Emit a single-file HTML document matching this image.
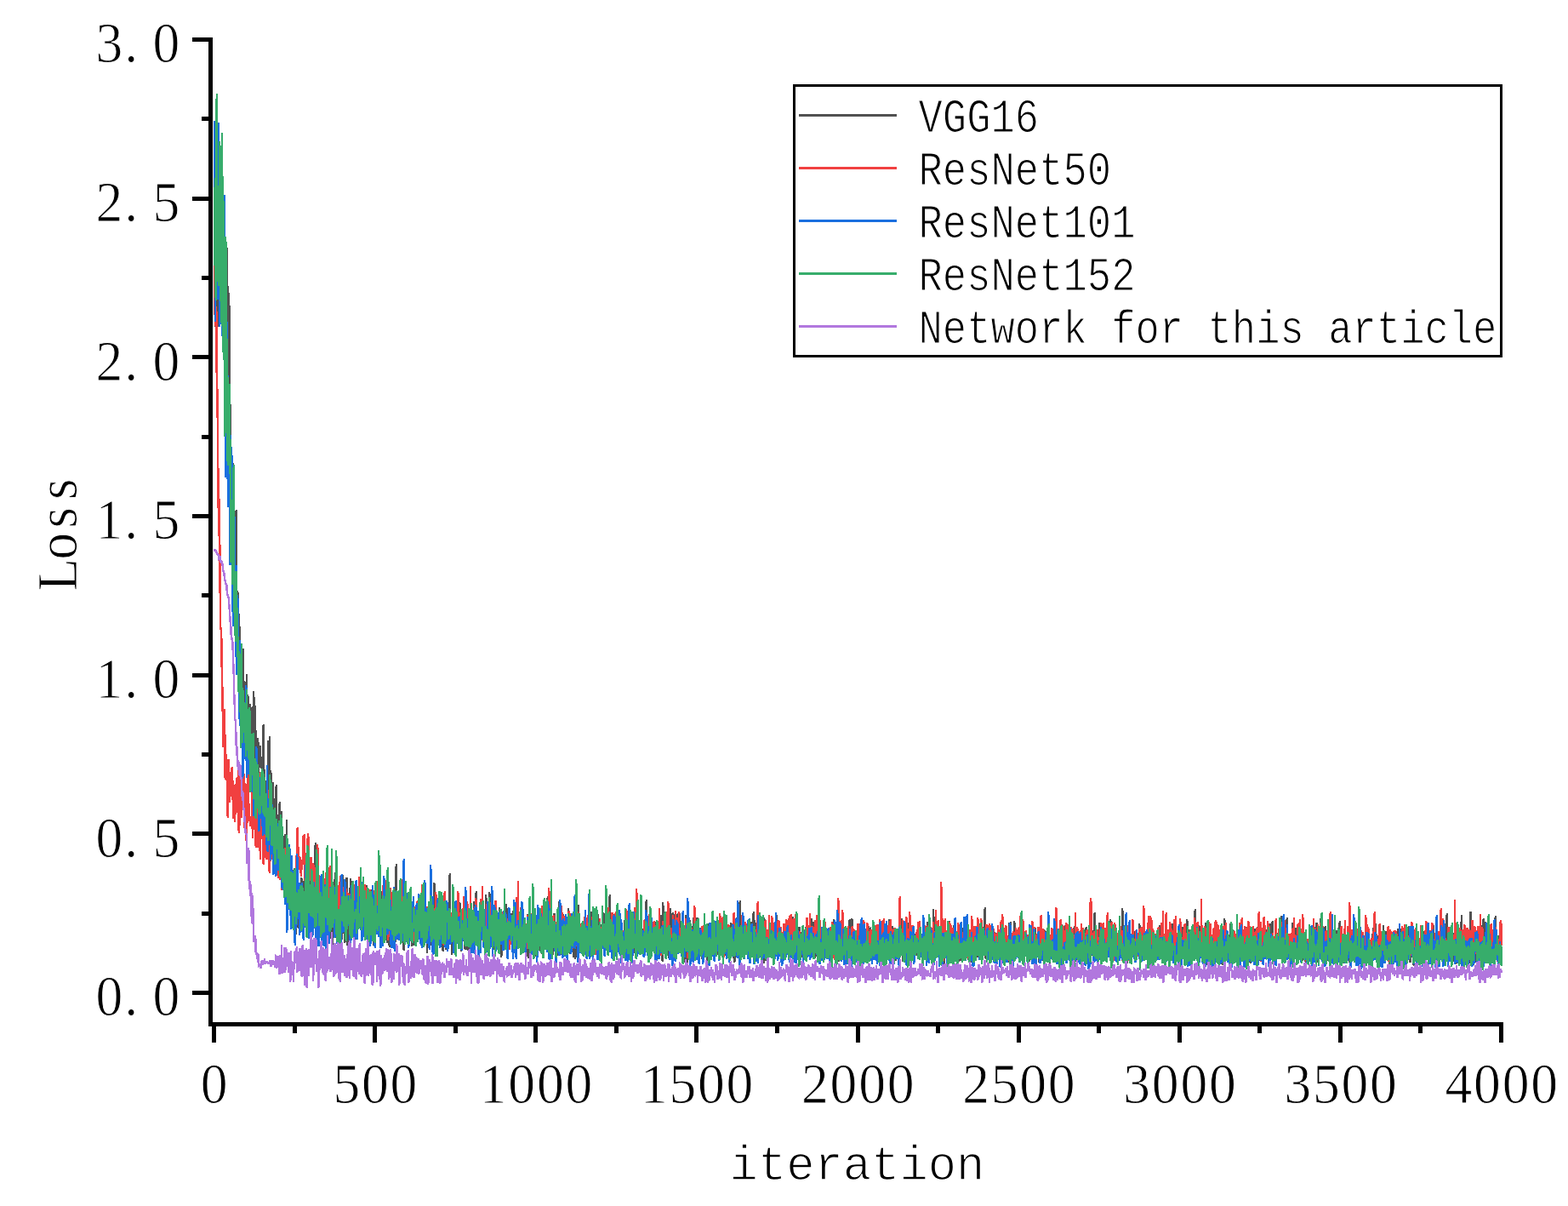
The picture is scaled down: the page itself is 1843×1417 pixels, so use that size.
<!DOCTYPE html>
<html lang="en">
<head>
<meta charset="utf-8">
<title>Loss vs iteration</title>
<style>
html,body{margin:0;padding:0;background:#fff;}
body{width:1843px;height:1417px;overflow:hidden;}
svg{display:block;}
text{fill:#000;}
.curve{fill:none;stroke-width:2.9;stroke-linejoin:miter;stroke-miterlimit:4;stroke-linecap:butt;}
</style>
</head>
<body>
<svg width="1843" height="1417" viewBox="0 0 1843 1417" role="img" aria-label="Loss versus iteration for five networks">
<rect x="0" y="0" width="1843" height="1417" fill="#fff"/>
<g class="curves" shape-rendering="crispEdges">
<path class="curve" stroke="#515151" d="M252 142v149l1 -4v34v-125l1 197v-259l1 170v-69v38l1 -118v229v-105l1 5v-104l1 150v-55v49l1 -55v-33v114l1 -146v22l1 32v-24v110l1 -32v55v-38l1 -49v83l1 -9v28v19l1 -1v-32v76l1 -72v-86l1 72v67v49h1v-138l1 115v49v-35l1 -106v131v-17l1 28v45l1 48v-28v3l1 -30v-3v5l1 43v-20l1 87v-83v46l1 46v-24v34l1 -43v-7l1 -21v156v8l1 -28v-19v-22l1 29v85l1 -51v-36v28l1 -13v39l1 3v-10v-3l1 11v6v29l1 -30v12l1 -31v1v37l1 20v11v-31l1 14v16l1 -10v23v-38l1 37v-50v28l1 -4v52l1 -34v-16v52l1 -18v-6v40l1 -45v-14l1 51v-32v47l1 -32v43l1 -74v23v15l1 22v-57v-21l1 109v-81l1 -11v41v42l1 -54v31v12l1 17v-45l1 -6v40v-29l1 44v-50v23l1 7v-1l1 -25v5v7l1 12v3v-14l1 12v-11l1 27v49v-82l1 -33v52l1 15v2v1l1 -2v28v-13l1 12v-29l1 15v-19v18l1 -28v21v-54l1 103v-25l1 -37v-46v77l1 -6v8v-39l1 42v-22l1 25v23v-34l1 -2v-18v36l1 13v-25l1 10v1v10l1 -27v21l1 -36v22v13l1 47v-42v5l1 -6v-4l1 33v-24v31l1 -55v74v9h1v-12l1 7v-67v55l1 21v-49v39l1 14v-43l1 8v25v-41l1 32v-34v30l1 -25v37l1 29v-88v78l1 -5v12v-9l1 -8v3l1 -9v-29v50l1 23v1l1 -9v20v-50l1 31v-2v-5l1 27v-8l1 -30v3v23l1 -50v67v-17l1 -2v36l1 -86v39v26l1 -68v37v4l1 20v-13l1 28v-43v24l1 -9v-24v21h1l1 19v-31v-17l1 19v-3l1 35v9l1 -52v33v-37l1 46v-6l1 -10v-18v19l1 -3v4v-3l1 23v-21l1 5v-2v-11l1 23v-11v4l1 -14v-8l1 34v-29v-38l1 75v-10v1l1 -11v-42l1 37v13v-25l1 23v-35l1 19v-25v43l1 -92v63v3l1 15v12l1 3v-13v12l1 -20v20v-27l1 -8v33l1 -38v30v-29l1 16v-15v41l1 -15v-34l1 44v20v-1l1 7v-5v-25l1 -35v36l1 -14v8v-2l1 3v1l1 -13v29v-41l1 3v22v-20l1 29v-3l1 -12v7v4l1 4v-2v-29l1 49v-36l1 11v-19v5l1 47v-49v6l1 6v8l1 -25v25v-49l1 30v-38v63l1 14v-41l1 -3v16v25l1 -16v-20l1 15v-1v1l1 13v-6v13l1 -61v47l1 -17v26v-33l1 44v-46v19l1 -49v69l1 -22v-6v-18l1 33v-9v33l1 -18v-22l1 -14v28v-51l1 8v39v33l1 -7v-14l1 -35v16v37l1 -27v-38v41l1 6v-58l1 44v10v-15l1 6v8l1 -32v2v6l1 19v-25v24l1 -10v-11l1 5v-23v30l1 34v-7v-46l1 33v-13l1 21v-33v26l1 -36v39v-31l1 9v25l1 -34v36v-1l1 -27v24l1 -4v10l1 -36v9v13h1v-10l1 -29v21v25l1 -23v17v1l1 -43v47l1 1v20v-7l1 -29v19v-20l1 27v-5l1 -25v-17v18l1 -12v-12v16l1 34v-13l1 -13v19v-15l1 31v-10v-23l1 41v-14l1 -17v25v-26l1 14v-8h1v-8v13l1 -11v11v-20l1 -24v31l1 1v20v-30l1 25v1v-23l1 7v-18l1 -7v37v-11l1 -34v18v5l1 -12v35l1 -21v-16v-5l1 45v-8v-11l1 11v2l1 -19v19v19l1 -31v13l1 4v12v-42l1 49v-6v-19l1 -28v-2l1 43v-15v19l1 -40v40v-19l1 -22v23l1 -32v42v-20l1 -9v18v-29l1 17v33l1 -92v57v10l1 22v-21v8l1 -18v5l1 -31v35v-7l1 3v9h1v-23v7l1 23v7v-15l1 -23v22l1 -35v47v-15l1 35v-23v-4l1 -14v-25l1 33v-27v16l1 -6v26v-34l1 42v-24l1 23v-7v13l1 -12v-14v7l1 18v-47l1 22v-13v5l1 24v16l1 -13v-36v38l1 -29v23v-16l1 32v-46l1 22v-17v13l1 -11v16v-15l1 34v-5l1 -28v13v3l1 -1v-11v18l1 -18v22l1 -7v-24v-1l1 35v-31v30l1 -28v38l1 -9v-8v-5l1 -29v10v-14l1 8v27h1v-24v19l1 3v16l1 -17v31v-25l1 7v-26v19l1 -2v-30l1 40v-20v30l1 -26v-6v-8l1 28v-18h1v5v-2l1 -5v1v21l1 2v-68l1 14v57v-27l1 -3v-2v10l1 16v-10l1 4v-9v6l1 -2v-20l1 -4v38v-9l1 5v-34v23l1 -27v33l1 -7v19v-42l1 29v14v-11l1 20v-28l1 -2v-3v-23l1 32v-18v9l1 8v23l1 -42v23v-7l1 17v-22v3l1 2v2l1 -20v2v4l1 -52v73l1 -3v8v-21l1 17v22v-15l1 -18v-16l1 38v-12v-6l1 8v-19v9l1 -5v15l1 -38v28v-23l1 29v-16v20l1 3v-3l1 -9v2v-30l1 43v-1v-46l1 21v34l1 -32v5v30l1 -21v-5l1 -12v-4v14l1 -16v20v10l1 1v-22l1 33v-35v26l1 -10v-13v-13l1 45v-13l1 -12v10v-23l1 40v-31v-1l1 6v-18l1 35v-35v28l1 -21v16v-18l1 1v32l1 -17v-1v2l1 7v-44l1 31v-25v36l1 6v-16v10l1 -54v42l1 -15v22v2l1 -4v-6v-9l1 16v8l1 5v-13v-11l1 2v8v8l1 -11v-6l1 9v-2v4l1 -17v21v-9l1 -3v-6l1 -14v15v1l1 29v-29v-33l1 54v3l1 -11v-20v9l1 15v-6l1 -18v7v-36l1 30v11v-4l1 14v8l1 -15v-5v25l1 -10v-2v-9l1 7v-10l1 5v-16v39l1 -50v5v23l1 -9v1l1 19v-12v-10l1 7v-12v16h1v12l1 -6v2v-36l1 26v16l1 -19v9v27l1 -37v27v-28l1 21v6l1 -26v26v-12l1 -9v-7v-2l1 12v11l1 -45v42v-40l1 38v-25v2l1 31v-19l1 -7v1v14l1 -7v10v9l1 -30v23l1 -31v14v21l1 -9v1l1 8v-19v14l1 -34v14v25l1 -11v3l1 16v-34h1v21v-23l1 20v-18l1 -16v29v20l1 -14v-14v-10l1 34v-11l1 -6v-3v-8l1 26v-6v-22l1 11v-1l1 -12v17v-6l1 12v12h1v-17v3l1 6v-13v16l1 -13v2l1 11v15v-50l1 19v33v-22l1 -12v9l1 -12v21v-14l1 3v2l1 -6v-11l1 21v-1v-8l1 4v-7v-5l1 -10v22l1 24v-25v-6l1 8l1 24v-34v12l1 14v-7l1 -20l1 -16v15v26l1 1v-35v-8l1 29v-11l1 26v4v-8l1 -9v2v-4l1 3v-16l1 -13v23v-35l1 43v-1v-12l1 10v-23l1 26v-29v19l1 -44v52l1 -3v-5v27l1 -33v1v6l1 20l1 -27v-10v-7l1 37v1v-9l1 19v-15l1 -20v-14v23l1 -23v21v3l1 5v-5l1 6v-1v6l1 -12v4v17l1 -14v8l1 12v-30v-18l1 -17v17v36l1 -29v1l1 39v-35v4l1 7v-2l1 3v-25v31l1 -2v-3v-4l1 24v-41l1 18v-5v6l1 5v2v-6l1 -1v-15l1 13v6v-35l1 49v-20l1 7v18l1 -16v5v-27l1 25v-23v9l1 9v-3l1 -5v30v-29l1 10v-34l1 37v-25v43l1 -38v8v7l1 -1v1l1 -9v8v18l1 -18v-40v37l1 -3v10l1 -8v6l1 -16v23v-9l1 -9v11l1 11v-23v20l1 -6v4v-8l1 4l1 -15v-19v33l1 -12v12l1 -6v-15v16l1 11v-1v-2l1 -7v-13l1 28v-3v-1l1 8v-39v20l1 -31v47l1 -36v28v-3l1 7v-1v4l1 -18v18l1 -12v-3v-9l1 8v-3v-3l1 7v-5l1 17v-2v-40l1 30v9l1 -30v23v6l1 9v-28v24l1 -6v-16l1 7v3v2l1 -20v-20v44l1 -14v-23l1 15v24v-3l1 2v3v-3l1 -11v11l1 -20v11v7l1 -18v8v1l1 -11v7l1 9v-15v10l1 -48v36l1 -1v-2v18l1 -19v20v10l1 -3v-14l1 24v-20v12l1 -19v19v-38l1 18v26l1 -42v30v6l1 3v-20v-14l1 29v5l1 1v-35v-3l1 30v-12v7l1 1v-14l1 7v2v8l1 -15v15v-4l1 -2v16l1 -10v-5l1 14v1l1 -38v8v4l1 -16v23v7l1 -8v27l1 -8v-23v10l1 15v-23v-5l1 5v9l1 10v-11v-5l1 10v-12v4h1v25l1 -36v-11v31l1 11v-25v15l1 5v-28l1 32v-25v24l1 -35v14l1 10v-5v-6l1 -3v4l1 13v-15l1 24v-29v2l1 -8v27v-9l1 -9v7l1 10v-9v3l1 -13v21v-12l1 1v-7l1 12v-3v3l1 -2v1v4l1 -52v58l1 3v-4v-1l1 -8v-21l1 -4v22v27l1 -29v19v-8l1 7v-19l1 13v-17v4l1 9v-4v-12l1 17v-17l1 13v-3v-8l1 -8v12v6l1 -9v27l1 -41v39v-27l1 19v-14v9l1 -6v13l1 13v-27v12l1 1v1l1 -39v37v-11l1 17v-35v29l1 18v-70l1 57v-30v8l1 2v11v-5l1 -15v21l1 -7v-9v11l1 6v-26v17l1 6v7l1 3v-24v-1l1 35v-14v-21l1 -25v5l1 21v-7v26l1 -17v24l1 -7v-11v-29l1 24v6v6l1 12v-22l1 12v-7v13l1 -12v18v-23l1 -12v6l1 -20v28v-2h1v17v-44l1 20v17l1 7v-18v-4l1 10v-1v5l1 -2v-19l1 -1v36v-18l1 15v1l1 -22v17v16l1 -34v-9v-13l1 35v-25l1 46v-14v-18l1 1v-13v6l1 14v-23l1 13v-16v34l1 -13v9v-16l1 14l1 11v-18v-11l1 1v39v-8l1 -47v32h1v-18v14l1 9v-4v-31l1 43v-33l1 22v-1v-31l1 35v-18l1 15v11v-13l1 -18v18v-9l1 5v2l1 5v-6v22l1 -16v14v-22l1 -1v13l1 -19v5v2l1 8v-11v-8l1 22v1l1 -25v39v2l1 -6v-21l1 -4v5l1 -21v6l1 29v-17l1 14v-4v6l1 -12v-7v6l1 14v3l1 -7v-19l1 14v-1v-1l1 -16v-9l1 18v8v-22l1 14v10v-18l1 11v18l1 -24v5v22l1 3v-23v-7l1 1v22l1 -10v-13v25l1 -17v-2l1 -10v36v-25l1 -28v37v-4l1 -16v21l1 -24v9v23l1 -17v16v-28l1 30v1l1 -6v-3v-27l1 18v-4v-11l1 23v-2l1 3v-19v-13l1 20v10v-1l1 6v-22l1 21v-8v9l1 7v5l1 -14v-13v7l1 -1v9v-2l1 2v-15l1 -27v32v12l1 -31v28v-18l1 12v-6l1 -48v57v-1l1 -12v5v5l1 3v-15l1 -7v25v1l1 -38v41v-24l1 4v17l1 -22v22l1 3v-26l1 16v-19v23l1 -17v-11v20l1 11v-8l1 -21v8v14l1 13v-27v-14h1v18l1 8v6v-2l1 10v-48v32l1 -37v37l1 16v-43v36l1 -5v-28v3l1 40v-20l1 12v-18v-20l1 32v-26v31l1 -43v42l1 -4v-9v18l1 -36v33l1 -19v21v-15l1 2v4v-11l1 18v-33l1 19v27v-54l1 24v-16v24l1 19v-17l1 9v-13v5l1 -8v20v-18l1 6v-13l1 25v-12v-29l1 36v-22v-8l1 18v-13l1 -1v-8v26l1 -3v-11l1 18v-9v9l1 14v-26v-20l1 28v-5l1 6v3v-10l1 -12v-19v22l1 21v5l1 -33v14v11l1 4v-2v-25l1 16v14l1 -25v7v7l1 -11v17v-21l1 27v-5l1 4v-9v3l1 -4v-4l1 -7v5v-1l1 -19v25v12l1 -27v-14l1 24v-9v18l1 -9v-6v4l1 10v-28l1 20v-10v7l1 -6v-1v15l1 -13v-21l1 3v19v-14l1 37v-34v19l1 19v-20l1 -10v20v-35l1 9v32l1 -27v12v7l1 -2v1v8l1 -8v-13l1 -11v26l1 -5v8v-23l1 30v-3l1 -7v-9v6l1 -4v-2l1 13v-7l1 -11v4v-11l1 23v-20v-8l1 21v-5l1 1v-4v2l1 -15v13l1 -4v7v15l1 -17v8v5l1 2v-8l1 5v-36v8l1 25v-12v-6l1 17v-28l1 14v13v16l1 -7v-14v9l1 -5v8l1 -11v8v10l1 -11v2v9l1 -34v20l1 3v-13v10l1 -11v25l1 -4v-18v-13l1 20v-3v12l1 -9v8l1 -6v-11v28l1 -22v12v-2l1 -22v12l1 -9v29v-12h1v1v-11l1 -6v23l1 -2v3v-28l1 21v-5v3l1 6v-14h1v-8v15h1v4v-27l1 7v14l1 -9v15v-36l1 36v-3h1v-27v22l1 -13v16v11l1 -22v16l1 7v-9v-12l1 -17v38v7l1 -32v8l1 9v-11v-4l1 -17v28v-18l1 21v1l1 -11v17v2l1 -26v31v-20l1 5v1l1 9v6v-12l1 4v-7l1 -5v8v4l1 -15v12v2l1 -7v-7l1 -26v8v34l1 1v-14v-6l1 8v-32l1 16v-7v26l1 5v2v-10l1 11v-6l1 -2v-16v17l1 9v-9v-7l1 -5v16l1 -17v-10v12l1 3v8l1 1v13v-27l1 12v-6v-4l1 14v-21l1 12v-19v18l1 -2v7v-23l1 39v-13l1 -3v12v-7l1 12v-22v16l1 -18v7l1 6v6v-8l1 -11v5v-9l1 16v-30l1 25v6v-26l1 -1v19l1 4v-16v20l1 -21v26v-13l1 -1v-16l1 33v-20v4l1 -1v9v4l1 -8v-2l1 -22v18v1l1 -8v24v-25l1 -2l1 15v8v-2l1 -13v-3v-10l1 -4v9l1 11v-3v6l1 -16v6l1 5v15v-26l1 28v-31v4l1 27v-14l1 11v-10v-9l1 9v12v-17h1v3l1 11v-7v-7l1 5v-32v27l1 5v-8l1 17v-16v-16l1 30v-12v-6l1 25v-38l1 33v-7v-8l1 7v-13v8l1 -5v6l1 -18v38v-23l1 7v7l1 -1v-3v-13l1 16v-7v-5l1 15v-26l1 -21v42v-18l1 15v-10v8l1 -33v35l1 -13v2v18l1 9v-27v-3l1 16v1l1 -19v2v-2l1 9v12v3l1 7v-18l1 -27v21v6l1 14v-8l1 -7v3v-14l1 13v-10v10h1v-18l1 24v-5v10l1 -14v-12v5h1v-5l1 6v-2v5l1 14v-16v-5l1 21v-12l1 -11v17v9l1 -13v-21v31l1 -8v6l1 -4v-6v-17l1 27l1 1v3v3l1 -6v-7v-2l1 -14v23h1v-1v-10l1 4v-11v18l1 -20l1 14v4v-9l1 11v-36v26l1 -8v22l1 4v-25v3l1 13v-1v1l1 -10v-9l1 26v-20v15l1 -4v-4l1 12v-56v8l1 26v1v18l1 -44v33l1 2v-17v13l1 11v-6v2l1 -5v-6h1v-10v17l1 -12v-11v35l1 -21v19l1 4v-35v7l1 8v11v-25l1 33v-14l1 -5v-11v31l1 8v-24l1 -2v2v11l1 -9v15v-20l1 -6v18l1 11v-17v1l1 -1v-18v15l1 -27v24l1 16v-25v15l1 4v-8v2l1 16v-6l1 -24v13v-6l1 -5v-11v31h1v2l1 -3v3v-9l1 1v-8l1 19v-5v-11l1 -4v29v-15l1 -3v16l1 -24v-10v33l1 -3v-27v-2l1 26v-2l1 -18v11v2l1 -26v18v20l1 -20v17l1 -23v-3v7l1 -6v-16v18l1 13v7l1 -14v13v4l1 -9v12v-4l1 -19v11l1 -2v-3v18l1 -20v2l1 1v-5v24l1 -46v29v11l1 -15v14l1 -14v-5v19l1 -23v9v-3l1 -1v-1l1 -8v4v4l1 14v-11v9l1 8v-13l1 8v-23v15l1 -1v-9v14l1 -2v-17l1 28v-5v-7l1 -11v6l1 15v-2v-32l1 19v10v-2l1 -50v28l1 33v-11v-13l1 11v-17v-9l1 23v-3l1 5v-12v-9l1 8v22v-20l1 15v-29l1 18v-8v14h1v-6v6l1 -21v32l1 -20v14v-16l1 27v-33l1 20v8v-20l1 10v-5v-12l1 26v-3l1 -9v-5v14h1v-17v-3l1 -5v21l1 19v-29v-3l1 23v-15v-2h1v8l1 -5v-7v24l1 -28v15v-13l1 17v8l1 -30v-7v39l1 -5v-14l1 12v-20v18l1 -3v-8v22l1 -16v-31l1 21v16v-22l1 -16v13v22h1v-3l1 7v-11v11l1 -2v-12v9l1 -3v-32l1 25v-10v10l1 -2v20v-8l1 -3v2l1 -2v-4v4l1 -10v10l1 -16v14v6l1 6v-5v-5l1 -17v27l1 -25v14v7l1 4v-19v24l1 -13l1 -3v-8v13l1 -8v14v-13l1 -6v10l1 -8v3v5l1 -3v2v16l1 -4v-19l1 23v-33v28l1 -14v-5v12l1 -21v28l1 -24v9v3l1 -14v6l1 18v-29v5l1 12v-1v-15l1 -5v15l1 18v-13v-8l1 18v3v-11l1 -2v-3l1 -11v35v-20l1 3v-2v-2l1 -11v6l1 7v-1l1 2v-18v34l1 -4v-34l1 14v-1v-7l1 33v-37l1 30v-2v-22l1 24v-17v-12l1 24l1 -14v-3v7l1 19v-36v13l1 28v-11l1 1v-2v-11l1 10v-22v1l1 13v11l1 -10v-5v-10l1 20v-6v11l1 -5v-20l1 -6v24l1 4v7l1 -18v-2v-1l1 6v-5v4l1 -14v11l1 -14v6v9l1 16v-18v2l1 -22v17l1 20v-3v-20l1 14v9v-17h1v7l1 -12v12v-26l1 36v-22v-1l1 -4v17l1 3v-27v16l1 13v-16l1 -11v13v15l1 -19v26v-23l1 -3v14l1 -5v1v7l1 3v-5v3l1 -26v33l1 -37v26v6l1 -3v5v8l1 -28v11l1 7v4v-6l1 6v-28v33l1 -8l1 -15v3v4l1 1v-7l1 13v-14v19l1 -19v11v-19l1 26v-7l1 3v-19v24l1 -24v6v-2l1 14v-13l1 -17v30v-10l1 6v8v-3l1 -14v6l1 21v-27v9l1 -14v17v-38l1 41v-18l1 19v-12v13l1 -27v16l1 -19v20v14l1 -7v-4v-22l1 -22v41l1 -5v-12v27l1 -8v-11v4l1 5v9l1 -11v-8v16l1 -8v-27v22l1 -1v17l1 -4v-3v5l1 4v3v-13l1 -12v3l1 -1v-3v20l1 -2v-5v7l1 -12v10l1 -21v23v-16l1 -15v34l1 -6v2v2l1 -13v-3v13l1 -2v-8l1 -1v15v-43l1 34v-3v7l1 -3v6l1 -30v38v-15l1 -10v23v-20l1 -12v14l1 3v3l1 -10v16v-13l1 8v2l1 5v-19v14l1 -19v13h1v11v-1l1 -16v7v-2l1 -7v2l1 10v-47v-2l1 40v19v-5l1 -16v13l1 -5v17v-23l1 -10v27v-8h1v17l1 -16v1v7l1 -4v-12v-1h1v10l1 2v-10v6l1 -17v-1l1 19v10v-17l1 9v-17v2l1 18v-23l1 -5v14v-3l1 12v4v-25l1 13v4h1v-10v11l1 3v-2v-1l1 3v-6l1 6v-32l1 27v-22v32l1 -19v9l1 -22v27v-28l1 29v-6l1 11v-11v2l1 9v6v-28l1 5v13l1 -6v6v-5l1 -5v-1v9l1 -3v-8l1 13v-1v-7l1 -5v10v-13l1 10v6l1 -8v15v3l1 -21v20v-8l1 -20v8l1 13v-9v14l1 -3v-9l1 -9v7v1l1 6v-8v-8l1 -4v9l1 3v-3v-2l1 11v-1v3l1 -1v-31l1 16v16v-7l1 -3v4v9l1 -28v30l1 -22v9v9l1 -6v15v-20l1 -5v14l1 -9v24v-15l1 7v-24v9l1 3v1l1 1v-12v19l1 -21v3l1 -4v16v-17l1 1v7v-9l1 19v-4l1 -18v-10v42l1 -26v23v-14l1 8v-8l1 5v-7v-3l1 11v-12v11l1 -11v-6l1 12v19l1 -9v-2v-4l1 11l1 -12v-3v-10l1 -6v12l1 10v-12v16l1 -10v-21v4l1 22v-15l1 16v2v9l1 -21v3v-9l1 3v12l1 -13v-15v-7l1 23v6v-1l1 3v7l1 -26v11v8l1 -18v9v22l1 -27v19l1 9v-16v6l1 5v-28l1 20v1v2l1 1v-6v6l1 -48v55l1 -12v6v2h1v-7v-11l1 -3v6l1 13v-30v2h1v28v-12l1 -1v1l1 1v9l1 -18v-2v10l1 7v-4l1 -11v17v-10l1 16v-12l1 16v-1v-39l1 27v-12v35l1 -19v-1l1 4v-7v10l1 -24v8v18l1 -16v2l1 -17v7v24l1 -3v-20v25l1 -20v14l1 -13v2l1 12v-8v-15l1 17v-7l1 -16v-4v5l1 19l1 3v4v-4l1 12v-20v9l1 -17v2l1 -5v25v-5l1 5v7v-8l1 1v-22l1 36v-28v9l1 2v-2v-8l1 6v-34l1 31v7v1l1 -3v-23v14l1 -11v29l1 -7v-5v2l1 -10v-4l1 16v18v-13l1 3v-18v-21l1 23v-20l1 20v-9v10l1 -6v18v-5l1 -23v8l1 24v-26v-2l1 18v-6v9l1 -9v2l1 5v-3v5l1 -14v15v-11l1 1v11l1 -4v-7v-14l1 24v-5l1 14v-14l1 -10v-1v14l1 -11v9l1 -7v-7v18l1 -12v20v-26l1 26v-14l1 1v-12v-13l1 25v-2v11l1 -17v-6l1 -2v24v-1l1 -19v-1v30l1 -10v11l1 -18v-3v-3l1 -1v-2v8l1 13v-16l1 -6v22v-4l1 -24v-7l1 26v8v-7l1 3v-4v-14l1 27v1l1 -44v33v-22l1 31v-27v24l1 -4v4l1 -20v17v-1l1 -17v-13v16l1 1v-6l1 -12v24v7l1 -34v7v29l1 -21v5l1 5v11v2l1 -8v-5l1 -22v35v-26l1 10v-7v-18l1 32v-6l1 17v-9v-26l1 -8v26v2l1 -6v2l1 -27v40v6l1 -8v5v-14l1 1v14l1 -13v3v-6l1 9v-2v-2l1 -19v27l1 -5v-6v1l1 -15v18l1 -7v3v9l1 -5v-3v7l1 -44v34l1 -10v-9v-5l1 43v-10v7l1 -9v-1l1 10v-27v-2l1 23v-15v-3l1 3v20l1 -47v6v33h1v8v-20l1 7v-5l1 10v8v-3l1 -3v-8l1 4v-12v2l1 -4v8v-21l1 -4v34l1 5v-19v2l1 -3v15v4l1 -8v-24l1 25v-11v14l1 3v-1v12l1 -13v-17l1 10v9v-8l1 -3v-7v17l1 -7v-4l1 -9v24v-8l1 13v-8v-12l1 -18v24l1 2v5v3l1 -4v-16l1 26v-16v4l1 4v-13v10l1 3v-5l1 9v1v-8l1 4v-22v11l1 11v-10l1 -10v2v-16l1 31v-24v19l1 -4v9l1 2v-34v-1l1 21v-6v7l1 -18v37l1 -37v36v-36l1 -8v41l1 -5v-7v-10l1 29v-18v-9l1 -2v2l1 12v1l1 -41v46v-13l1 6v-2l1 -5v9v-6l1 5v-13v13l1 -5v1l1 -25v36l1 -3v5v-9l1 -3v6l1 -11v9v-4l1 16v-24l1 16v-4v-12l1 20v-25v9h1v16h1v-14v4l1 3v-5v8l1 -7v-8l1 15v-1v-7l1 4v-4v-2l1 17v-36l1 22v-3v12l1 -8v7l1 -7v11l1 -45v29v-3l1 2v11l1 -9v22v-11l1 -16v9v16l1 -5v-24l1 26v-17v17l1 -26v4v-5l1 15v-8l1 2v14v-13l1 8v5v-1l1 -25v4l1 14v14v-25l1 -7v7v9l1 11v-12l1 8v-1v-7l1 5v-7l1 -10v25v-17l1 -2v8v15l1 -10v-39l1 22v20v-7h1v-5v-3l1 -5v7l1 10v-19v19l1 -14v-18v22l1 17v-22l1 2v15v-17l1 6v11v-12l1 4v14l1 -19v17v-19l1 18v-18l1 4v15v-19l1 -8v27v-5l1 2v-7l1 -21v18v-17l1 19v-17v21l1 -2v11l1 -24v11v3l1 5v-17v3l1 13v-26l1 17v2v-26l1 25v2l1 -33l1 17v14v4l1 -11v4v15l1 -28v19l1 -13v9l1 11v-4l1 -2v-6v-4l1 7v4v-20l1 13v-6l1 2v12v-2l1 -16v-16v20l1 13v-22l1 30v-7v-24l1 20v-23v34l1 -9v-10l1 2v-1v3l1 6v-18v18l1 6v-11l1 20v-31v4l1 7v6l1 9v-1v-23l1 7v-3v5l1 -5v18l1 -22v4v-7l1 10v11v-16l1 17v-23l1 8v10v-10l1 -16v29v-31l1 21v-12l1 10v-3v-17l1 21v3v-3l1 -11v15l1 7v-7v-9l1 7v-5l1 12v-24v13l1 -1v4v-6l1 8l1 -10v12v-3l1 13v-11v10l1 -3v-2l1 -32v11v10h1v-11v33l1 -6v-12l1 8v4v-8l1 -11v-4v12l1 -4v-4l1 29v-29v25l1 -22v-2l1 -1v13v-13h1v-5v26l1 -6v-12l1 6v-10v3l1 3v-3v3l1 10v-14l1 12v-26v7l1 20v-9v15l1 -14v-19l1 18v-9v-4l1 13v-12v16l1 -5v17l1 -7v-3v-10l1 17v-13l1 17v-11v3l1 -27v28v-6l1 -13v18l1 -12v6v8l1 -1v-17v15l1 -15v9l1 8v-7v-29l1 27v9v-12l1 8v9l1 -17v14v-25l1 2v5v8l1 8v-11l1 10v-20v26l1 -31v19v6l1 4v-18l1 2v-4v10l1 5v-7l1 13v-10v6l1 -24v11v9l1 1v-18l1 19v-5v-7l1 14v-23v12l1 -17v20l1 -40v35v3l1 14v-15v16l1 -10l1 -14v14l1 5v-4v2l1 -29v31l1 3v-5v-19l1 30v-34l1 26v1v2l1 -17v12v-9l1 2v20l1 -19v-5v16l1 1v-12v-21l1 2v-4l1 31v-15v11l1 -13v9v16l1 -23v24l1 -50v-6v45l1 -6v-2v-3l1 -3v22l1 -5v-20v5l1 12v5l1 -16v8v-16l1 -1v5v4l1 1v-7l1 17v8v-22l1 4v4l1 18v-61l1 3v44v-15l1 9v-2v-1l1 -9v20l1 -15v29l1 -39v11v13l1 -6v-6l1 9v-9v24l1 -20v-11l1 4v7v10l1 -9v12v-12l1 3v-8l1 -11v7v18l1 1l1 1v-36l1 10v22v-6l1 -34v50v-20l1 -22v24l1 8v-21v-15l1 32v-16v23l1 -12v-4l1 12v-12l1 -3v20l1 -4v-11v19l1 -4v-14v-5l1 6v4l1 -22v19v7l1 13v-24v11l1 -1v-3l1 8v-14v7l1 -39v44v-10l1 9v-14l1 17v-10l1 -4v22v-23l1 5v-13l1 22v-7v8l1 -1v-15l1 1"/>
<path class="curve" stroke="#F14040" d="M252 309v-1l1 65v-96v106l1 -17v-6l1 81v25v25l1 -12v-22v89l1 53v-17l1 50v9v-5l1 63v4v35l1 1v8l1 38v2v18l1 32v33v8l1 -14v7l1 -38v81v-35l1 -1v-15v21l1 33v-9l1 -5v24v-15l1 49v-69l1 5v37v-19l1 12v16v-17l1 -19v28h1v-6v-10l1 -18v39v-23l1 6v39l1 -26v-5v-2l1 -7v44v-38l1 15v14l1 -38v-4v28l1 -30v25v-8l1 22v-55l1 82v-45v-16l1 52v-33l1 -2v-19v-9l1 35v19v-56l1 3v36l1 -16v-2l1 8v-25v64l1 -53v15l1 13v-27v67l1 -65v17v29l1 -29v15l1 -62v18v31l1 23v-2v-4l1 5v7l1 -5v-5v5l1 4v4l1 -71v82v-8l1 -26v15v-14l1 -7v-8l1 11v33v-39l1 54v-28v8l1 10v-29l1 15v-22v46l1 -41v8v7l1 27v-18l1 22v9v-103l1 52v-16v43l1 -20v1l1 3v11v5l1 30v-43l1 4v-12v25l1 -36v40v14l1 -36v25l1 13v-21v-11l1 10v-4v-56l1 52v-13l1 59v-36v-6l1 19v9v-20l1 13v5l1 -29v-2v18l1 13v-15v-4l1 4v32l1 -15v-11v-3l1 -14v13l1 30v-6v8l1 -48v29v-6l1 -7v22l1 13v-10v-3l1 -26v11v30l1 -25v-1l1 27v-13v24l1 -29v10v14l1 -7v-13l1 12v-11v-3l1 19v-6v-36l1 31v14l1 -11v18v-32l1 11v-9v3l1 8v-8l1 9v14v5l1 -6v23l1 -53v46v-18l1 14v7v-23l1 2v-2l1 -10v14v-13l1 -3v11v-2l1 -11v2l1 -5v29v-37l1 -9v3v-8l1 -28v33l1 -10v24l1 -6v9v-16l1 14v-11l1 18v3v-14l1 6v-6l1 -6v2v-24l1 -6v12v18l1 -32v49l1 6v-33v4l1 2v-3v25l1 -6v-39l1 6v30v-42l1 50v-5v-11l1 22v-9l1 -4v4v-19l1 6v24v-5l1 -11v2l1 13v-17v-5l1 22v-20l1 34v1v-27l1 19v4v-8l1 6v-12l1 24v-12v-53l1 49v25v-29l1 2v-11l1 19v11v-26l1 10v30v-30l1 12v-17l1 20v-15v8l1 -5v8v5l1 -6v-7l1 3v-16v16l1 -2v-21l1 29v-6v14l1 -7v-23v19l1 -15v32l1 4v-20v20l1 -55v23v32l1 -13v5l1 -12v6v-13l1 -7v23v11l1 -21v10l1 -18v18v-13l1 7v7v3l1 -14v-29l1 27v13v-11l1 9v16l1 -19v-17v26l1 9v-19v-20l1 14v-1l1 -21v12v13l1 13v-4v3l1 -13v23l1 -33v20v7l1 -16v35v-13l1 -2v-20l1 18v-27v27l1 -13v16v-26l1 20v-10l1 14v7v-11l1 -18v28v6l1 -14v-15l1 24v-6v-9l1 7v-9l1 -13v17v1l1 -12v12v12l1 1v1l1 -44v31v-9l1 -2v22v-21l1 17v18l1 -22v11v-10l1 -9v-33v45l1 -5v-7l1 3v4v13l1 -2v-10v13l1 -6v7l1 -34v37v-51l1 40v6l1 2v-28v-18l1 42v-16v7l1 1v-6l1 -9v36v4l1 -31v4v-11l1 32v-8l1 -39v43v-23l1 17v-5v12l1 -38v45l1 -9v-3v-32l1 15v-7v12l1 -4v-4l1 -19v23v24l1 -39v17l1 17v-12v11l1 -51v42v21l1 -30v16l1 -33v20v25l1 -16v8v-4l1 -2v17l1 -29v15v1l1 -25v-21v42l1 -40v58l1 -35v17v-7l1 13v-6v-3h1v-11l1 -36v51v-6l1 20v8l1 -53v40v-7l1 -10v-15v10l1 -27v35l1 21v-26v1l1 13v-7v4l1 -38v38l1 10v-22v27l1 -29v18l1 -4v1l1 -36v21v23h1v-15v-6l1 15v-14l1 7v-20v10l1 9v-4l1 14v-25v8l1 11v-7v9l1 -52v51l1 -14v3v16l1 -11v5v-8h1v-8l1 -1v18v2l1 1v3v11l1 -31v10l1 -6v26v-2l1 11v-28v-12l1 1v10l1 13v-14l1 -10v-1l1 15v-3v-11l1 4v9v24l1 -17v-22l1 11v-13v20l1 -6v-11v2l1 4v-11l1 -4v-1v43l1 -14v-2l1 16v-41l1 34v-15v30l1 -22v-3v9l1 -23v-31l1 53v-40l1 20v13v12l1 -27v8l1 -22v37v-9l1 1v-1l1 -19v3v22l1 -7v2v-17l1 16v12l1 -10v-4v-14l1 -6v-1v15l1 13v-16l1 12v5v-12l1 -2v-7v25l1 9v-28l1 20v-28v30l1 -7v14v-56l1 41v-6l1 7v-4v-16l1 11v2l1 -19v36v-34l1 -9v43v-21l1 20v9l1 -14v-18v-4l1 16v7v-6l1 4v-1l1 19v-24v-2l1 -38v27v12l1 -3v-4l1 14v15v-14l1 -7v-5v12l1 2v-8l1 -4v-8v12l1 -10v19l1 -25v13v16l1 -13v-5v15l1 -24v15l1 -11v19v-17l1 -6v17v-3l1 4v-12l1 5v-7v8l1 15v-10l1 -12v-32l1 25v21v16l1 -31v7v16l1 -29v13l1 6v17v-37l1 14v4l1 9v-7v-24l1 11v-25v17l1 11v-8l1 11v20v-10l1 -13v17v-5l1 9v-43l1 44v-4v-1l1 -26v-3v25l1 -16v20l1 -11v-46v32l1 14v16v-12l1 12v9l1 -34v6l1 -12v35l1 -42v36v-19l1 -1v-10v-16l1 27v10l1 9v-17v14l1 6v-14v-12l1 14v9l1 -15v17v3l1 -41v19v-28l1 49v-33l1 18v-49v50l1 3v-12v3l1 9v-19l1 3v-3v8l1 14v-17l1 20v-38l1 26v10v-25l1 16v-19l1 16v-25v33l1 9v4v1l1 -28v-20l1 31v14v-26l1 4v11v-11l1 6v14l1 -24v17v5l1 -9v-27v-7l1 10v28l1 6v-17v7l1 -4v15v-2l1 2v-24l1 -5v24v-16l1 -1v18l1 -9v-19v31l1 -31v22v-4l1 4v15l1 -22v4v6l1 -3v-8v7l1 5v-8l1 -9v10v10l1 -21v15v-12l1 11v9l1 4v-4v-8l1 22v-30v-11l1 19v10l1 6v-22v-3l1 5v-9l1 19v-5v-7l1 6v-9v-1l1 11v8l1 -2v-26v31l1 -15v13v-50l1 46v-17l1 21v-69v73l1 -21v20v-27l1 27v-9l1 12v-13v-5l1 -27v52v-32l1 7v8l1 -5v-8v6h1v9l1 -4v-12v18l1 -5v-7v-4l1 -1v8l1 20v-33v-4l1 -3v13v-7l1 16v9l1 -11v1v-17l1 3v18v-1l1 -5v-2l1 -20v28v-25l1 35v-8v-34l1 20v4l1 -6v11v-4l1 -2l1 -2v12v-12l1 14v-17v10l1 -5v-1l1 13v-2v-8l1 -5v-7v14l1 8v-12l1 4v-11v-7l1 -13v49v-13l1 -5v-11l1 1v9v-10l1 17v-2v-8l1 16v-36l1 33v4v-18l1 25v-15l1 -3v-21v-33l1 49v17v-18l1 -5v20l1 -16v-19v17l1 16v-2v11l1 -13v2l1 -27v37v1l1 -21v-5v15l1 -9v-7l1 -1v5v-2l1 24v-28v9l1 12v-5l1 -1v3v-5l1 3v12v-50l1 28v-29l1 38v-27v25l1 -25v11l1 2v13v-5l1 -17v41v-13l1 6v-4l1 -19v-3v14l1 -18v24v-1l1 -9v-4l1 7v11v-20l1 -18v30v-5l1 13v-12l1 10v-13v-20l1 16v15v-19l1 30v-36l1 13v14v-6l1 7v-42l1 23v20v-4l1 -10v9v-10l1 -2v21l1 -24v-17v21l1 -4v14l1 -10v15l1 7v-29v19l1 -10v1v-4l1 -3v1l1 11v-15v16l1 -9v12v-8l1 10v-29l1 15v13v11l1 -11v-27l1 26v-21v16l1 2v8v-16l1 -19v12l1 4v19v-13l1 14v-3v-15l1 17v-18l1 10v-24v22l1 -8v-7v6l1 -1v27l1 -30v29v-9l1 16v-20v4l1 -5v8l1 -9v7v-6l1 -14v33l1 -21v1v15l1 -11v-25v15l1 11v-16l1 5v19v-10l1 -4v-1v-4l1 4l1 7v-2v2l1 -13v8v5l1 -16v-32l1 43v-19v24l1 -9v-10v-3l1 -17v38l1 -7v-18v1l1 28v-10l1 -14v-3v28l1 -16v28v-37l1 -12v38l1 -9v12v-10l1 -12v-1v3l1 20v-5l1 -37v24v8l1 -8v10v-9l1 11v-1l1 9v-42v16l1 -13v11v13l1 10v-18l1 -3v2v12l1 12v-27v5l1 6v2l1 -1v5v9l1 -14v4l1 -9v7v-7l1 17v-19v-25l1 32v-9l1 -4v7v2l1 19v-7v-31l1 19l1 -26v47v-32l1 5v29v-13l1 -12v13l1 1v-17v10l1 -4v4v-4l1 -2v-29l1 28v13v-13l1 2v-52l1 70v-24v6l1 -18v33v2l1 -18v-7l1 6v-3v9l1 -14v12v7l1 -26v30l1 7v-12v-3l1 -1v3v-8l1 9v5l1 -29v22v-17l1 13v-4v-16l1 41v-34l1 14v-11v17l1 -5v2l1 10v-11v-27l1 9v-2v22l1 -1v3l1 16v-18v5l1 -19v-1v7l1 15v-3l1 -25v14v-9l1 18v-18v17l1 2v-9l1 11v5v-31l1 9v15v-5l1 -16v21l1 18v-57v49l1 -10v16h1v-26v18l1 -22v10l1 -9v-1l1 -10v33v-6l1 -17v-1v16l1 7v-13l1 24v-7v-32l1 28v-43v28l1 -1v-39l1 30v16v2l1 1v13v-25l1 5v8l1 -19v18v11l1 -6v-11l1 -5v-22v31l1 -11v-7v6l1 4v16l1 -8v-36v30l1 2v12v-15l1 -21v30l1 4v-9v4l1 2v-38v21l1 25v-14l1 -13v16v-14l1 22v-18v7l1 -8v8l1 7v-12v-1l1 -3v23l1 -9v-3v1l1 1v-5v-17l1 -6v9l1 8v30v-16l1 -14v16v-24l1 22v-9l1 7v-8v17l1 -11v6v2l1 5v-29l1 25v-21v11l1 -7v5v1l1 12v-52l1 26v1v33l1 -13v-10l1 10v-15l1 6v-8v-5l1 23v-2l1 3v-19v11l1 3v9v-17l1 4v-2l1 6v10v-30l1 16v-3v11l1 -25v25l1 -3v4v2l1 -21v15v5l1 -8v1l1 -4v7v-9l1 19v-7v-18l1 -1v27l1 -22v5v-15l1 26v-16l1 -6v25v-7l1 -19v14v-13l1 9v16l1 -15v-4v11l1 -19v26v-13l1 3v5l1 6v5v-7l1 -10v4v-5l1 1v3l1 -9v-7v26l1 -18v19v-47l1 40v-5l1 -15v6v-7l1 -7v22l1 -30v34v-4l1 -14v32v-15l1 -4v-13l1 18v-18v21l1 -24v4v15l1 -2v-1l1 2v2v-24l1 12v21l1 -15v-14l1 12v7v-4l1 -11v11v19l1 -12v-10l1 17v-16v-5l1 -26v12l1 15v22v-21l1 18v-4v-25l1 23v-22l1 11v-9v14l1 -1v-22v12l1 4v4l1 -7v8v-8l1 8v16l1 -10v-35l1 10v22v5l1 -3v-3v-19l1 22v9l1 -9v7v-33l1 22v-3l1 2v18v-22l1 -3v11v-9l1 8v-3l1 -11v15v-11l1 5v1v6l1 2v-8l1 -15v10v-11l1 16v16v-31l1 16v-15l1 5v-2v5l1 30v-34v7l1 -6v-2l1 7v-4v23l1 -59v35v1l1 17v9l1 -11v-8v-2l1 -19v6l1 24v-16v13l1 -15v17v-24l1 23v-2l1 6v-20v9l1 -4v-4v18l1 -31v13l1 6v3v3l1 3v-17v9l1 2v6l1 -8v-26v23l1 24v3v-31l1 23v-17l1 -4v-1v-19l1 32v-8l1 10v6v-5l1 -27v28l1 -19v12l1 -13v21v-14l1 2v11v-3h1v-6l1 -22v1v-1l1 15v-5v22l1 -11v-13l1 10v11v-13l1 3v1v8l1 -14v10l1 6v-8v-7l1 -11v3l1 32v-31v7l1 1v-13v-4l1 15v9l1 5v-9v-2l1 12v-31v3l1 9v-15l1 15v15v-15l1 -17v31v11l1 -26v30l1 -7v-15v9l1 -28v23v-7l1 -7v14l1 -6v25v-47l1 28v4l1 4v-10v9l1 -9v10v8l1 -7v1l1 -13v-5v15l1 -9v10v-6l1 3v-8l1 14v-8v-1l1 11v-12v1l1 -12v23l1 3v2v-19l1 8v5v-13l1 -8v-15l1 10v23v-26l1 27v-13l1 -5v24v-16h1v-29v37l1 -16v12l1 -3v10v-22l1 -3v32l1 2v-17l1 -16v5v13l1 4v-30v4l1 27v-8l1 1v-30v20l1 -6v24v-13l1 -5v7l1 -3v6v10l1 -34v33l1 -2v10v-22l1 2v9v2l1 -11v5l1 8v-17v-6l1 7v-6v8l1 -18v9l1 15v-17v9l1 10v2v-4l1 16v-11l1 -3v10v-6l1 1v5v-14l1 -4v-1l1 -11v17v3l1 -5v-16v-5l1 27v-11l1 7v-9v29l1 -17v13l1 6v-29v15l1 -27v7v-6l1 6v15l1 -10v20v-64l1 43v-18v21l1 15v-11l1 -8v-6v11l1 -21v9v9l1 9v-39l1 40v-2v7l1 -13v20v-24l1 23v-24l1 23v-2v-5l1 -10v5l1 8v-8v-9l1 24v-34v17l1 23v-25l1 4v2v-1l1 1v-14v7l1 -9v14l1 -19v18v-9l1 9v-13l1 1v9h1v5v-12l1 4v-7v9l1 2v-11l1 13v-11v-4l1 -6v17l1 -1v-9v10l1 -5v5v2l1 7v-9l1 -6v4v6l1 -6v-17v20l1 7v-29l1 27v-25v13l1 21v-12h1l1 -11v4v-14l1 21v-2v-9l1 9v4l1 -9v15v1l1 -7v-12l1 -3v21v-5l1 -10v1v12l1 -20v15l1 -2v5v-21l1 1v16v-18l1 3v4l1 9v-11v18l1 -2v-2v-10l1 -10v35l1 -17v7v-14l1 20v-37v29l1 -24v31l1 -19v-15v5l1 28l1 4v-21v21l1 -40v15v-9l1 24v-3l1 -3v15l1 -16v6v-3l1 11v-19l1 -10v13v9l1 -15v7l1 13v9l1 -43v19v9l1 4v14v-35l1 14v-4l1 5v-1v-7l1 20v-6v-14l1 -8v10l1 -1v15v-3l1 -10v2l1 4v-2v15h1v-23v7l1 9v-12l1 -48v58v-11l1 5v6v2l1 -22v19l1 12v-41v31l1 -17v6v7l1 -26v32l1 -13v-2v20l1 -6v-18v-18l1 20v29l1 -35v30v-7l1 -9v-2l1 4v1v-37l1 48v-17v-10l1 4v25l1 -34v1v26l1 -2v-25v16l1 12v-16l1 15v2v9l1 -24v13v1l1 -5v-15l1 11v-12v12l1 -15v-8v22l1 1v15l1 -10v-29v14l1 25v-5l1 -14v3v-1l1 2v-6v5l1 7v-10l1 26v-13v-8l1 -9v-9l1 1v13h1v-4v12l1 -1v-7v13l1 -15v1l1 -16v32v-6l1 -22v22v-10l1 11v-24l1 30v-8v3l1 -24v14l1 18v-39v37l1 -17v-9v17l1 2v6l1 2v-52v23l1 -2v32v-10l1 7v-23l1 -15v31v2l1 -26v29v-19l1 13v-15l1 15v10v-85l1 84v-20v-21l1 10v29l1 3v8v-13l1 4v-4l1 -37v22v3l1 9v-9v-5l1 5v-9l1 -2v19v4l1 -28v31v-18l1 1v-19l1 30v7v-35l1 29v13v-8l1 -13v-16l1 9v7v8l1 -9v-7v16l1 -11v-21l1 25v1l1 -5v9l1 -18v6v-3l1 13v-15v-11l1 24v1l1 -3v6v-3l1 -18v11v7l1 1v5l1 -20v19v-9h1v17v-14l1 -7v25l1 -7v-13v3l1 -7v-10v14l1 -4v1l1 23v-15v-3l1 -13v16v-11l1 -1v20l1 4v-31v22l1 -21v12l1 -7v26v-48l1 53v-10v-17l1 -10v6l1 -3v22v-16l1 -13v33v-4l1 -14v-15l1 9v19v-4l1 -2v11v-43l1 33v1l1 10v-19v3l1 -16v5v12l1 -8v-20l1 34v-3v-13l1 15v-12l1 17v-21v1l1 15v6v-16l1 1v16l1 -26v20v-27l1 3v14v-6l1 23v-15l1 -6v19v2l1 -35v16v-14l1 6v36l1 -12v-10v-2l1 -1v9v-6l1 9v-27l1 27v-4v-17l1 17v-8l1 11v-9v-5l1 20v1v-4l1 -22v3l1 -3v-9v23l1 3v-6v-4l1 -11v12l1 -5v13v9l1 -40v23v6l1 -6v-30l1 37v2l1 -3v14v-34l1 16v9l1 -23v18v-23l1 21v-2l1 -4v-3v13l1 -5v-4v21l1 5v-22l1 -3v-13v16l1 -15v-4v17l1 7v4l1 -8v12v-17l1 -7v16v-18l1 21v-10l1 -2v21v-15l1 -14v-4v-1l1 23v-9l1 17v-24v9l1 -11v24l1 -30v16v14l1 -22v-21v27h1v19l1 -14v-14v9l1 5v5v-33l1 32v10l1 -19v6v1l1 4v1v3l1 -25v23l1 -1v-11v-6l1 4v7v4l1 -8v6l1 -2v-14v12l1 -11v16v-2l1 -4v-4l1 16v-2v-34l1 21v9l1 10v-10v-18l1 -5v29v-12l1 -8l1 6v2v-5l1 11v-10v-5l1 13v-21l1 5v18v-1l1 -7v-2v-1l1 3v4l1 -33v5v20h1v-2v-6l1 9v-10l1 32v-10l1 8v-12l1 3v4v1l1 -17v15v-15l1 15v-10l1 15v3v-22l1 6v-32v24l1 2v2l1 8v-13v12l1 -11v13v-22l1 15v3l1 -8v11v12l1 -15v-13v19l1 -19v1l1 1v26v-57l1 21v17l1 10v3v4l1 -11v-18v27l1 -11v-11l1 -3v9v9l1 -32v19l1 -5v19l1 4v-30l1 14v18v-1l1 -12v13l1 -11v-5l1 -10v-9v21l1 -2v-18l1 17v1v-8l1 9v3l1 -15v19v-3l1 -6v-8v27l1 -32v6l1 22v-22v17l1 -21v15v-5l1 18v-12l1 3v-12v14l1 -12v-28v35l1 -15v19l1 -15v22v-29l1 22v3l1 -2v-13l1 4v-9v5l1 13v-3l1 -17v-7v6l1 3v21v10l1 -35v17l1 9v-9v-10l1 11v7v-6l1 -13l1 31v-30v9l1 -14v34v-18l1 4v-3l1 8v-6v6l1 -17v-40v45l1 6v-56l1 51v3v-15l1 22v-8l1 12v-21v15h1v-1v-19l1 17v-3l1 -9v-11v40l1 -33v-2v-1l1 7v16l1 -14v3v-1l1 6v18l1 -25v-7l1 -4v-7v5l1 20v-12v13l1 -21v20l1 -25v34v-17l1 1v10h1v-22l1 20v6l1 -21v16l1 -38v-1v27l1 9v-20v23l1 -22v8l1 6v9v-12l1 5v-3v5l1 -24v38l1 -2v-21v6l1 16v-21v7l1 23v-45l1 26v2v1l1 9v-7v-20l1 19v-9l1 20v-22v7l1 -4v3h1v1v-18l1 -1v16v-6l1 14v1l1 -5v-18v36l1 -13v-14v-1l1 6v10l1 -15v-6v-3l1 9v8v-9l1 -7v13l1 -1v14v-30l1 16v20v-25l1 -15v43l1 -44v22v-9l1 20v-16l1 6v-6v18l1 -3v5v-42l1 18v12l1 -3v10v-5l1 -9v21v1l1 -4v-4l1 -25v15v3l1 -14v4v3l1 1v-1l1 22v-34v6l1 -5v1v10l1 -6v17l1 -25v3v12l1 7v-8l1 21v-13v-47l1 44v5v-7l1 9v6l1 -21v23v-19l1 5v-5l1 6v-26l1 22v-30v33l1 -1v3v13h1v-48l1 26v8v-30l1 12v-4v20l1 1v-18l1 27v7v-25l1 4v3l1 6v-16v23l1 -5v-10v9l1 -7v14l1 -5v-18v15l1 -24v1v27l1 -1v-13l1 2v-1v-5l1 19v-34v26l1 6l1 -30v-16v27l1 2v8v11l1 -10v18l1 -16v-34v40l1 -44v39v9l1 -20v4l1 -12v8v23l1 -13v-9l1 10v-26v-2l1 30v-6v7l1 -23l1 34v-7v-23l1 27v-19v-2l1 12v-33l1 13v17v-15l1 16v-35v19l1 12v17l1 2v-25v2l1 -3v9v16l1 -3v-14l1 -20v26v-35l1 51v-5l1 -9v-15v19h1v4v-16l1 -7v-9l1 28v-11v9l1 -33v32v-21l1 7v24l1 -25v-6v25l1 -23v13v-16l1 5v16l1 -13v5v-4l1 12v-24v14l1 -3v18l1 -17v5v12l1 -18v2l1 -10v4v-12l1 27v-36v4l1 12v5l1 17v-10v17l1 -12v-5v-7l1 -16v44l1 -1v-12v-3l1 10v-14l1 -10v16l1 -8v-49v54l1 -23v10v29l1 -10v4l1 -24v15l1 -2v-21l1 22v4v-15l1 13v-6v-8h1v3l1 20v7v-21l1 -24v27v-2l1 -9v9l1 -23v7v34l1 -22v-3v8l1 -11v17l1 -10v6l1 -21v10v1l1 -4v-14l1 29v-21v-10l1 23v-5l1 -13v22v-10l1 15v-26v4l1 21v2l1 -9v7v6l1 -3v-11v9l1 7l1 -29v22v-8l1 6v-5v4l1 -23v43l1 -38v24v-17l1 7v-22v18l1 4v4l1 5v2v-6l1 8v-5l1 2v1v-2l1 -6v6v-12h1v19l1 -13v8l1 -12v6l1 -7v-7l1 -3v23v-14l1 16v11v-5l1 -15v-13l1 4v-2l1 29v-14v3l1 -9v-14l1 -2v-8v24l1 6v-14v5l1 -20v31l1 -38v8v8l1 22v-3l1 9v-30v5l1 18v-27v12l1 4v2l1 -13v18v1l1 -23v34v-11l1 -6v-24l1 15v18v-29l1 32v-10v11l1 -22v8l1 17v-7v-6l1 -18v-1v16l1 -18v28h1v-5v4l1 -3v-1l1 -17v23v-11l1 -6v-10v4l1 4v1l1 8v2v1l1 -39v48v-15l1 6v-6l1 -21v33v14l1 -8v-16v11l1 -7v7l1 -28v32v-11l1 -33v28v8l1 -26v33l1 -23v18v-8l1 -3v11l1 5v-7v-31l1 38v-17v3l1 -18v28l1 -2v2v13l1 -10v-18v2l1 6v13l1 -19v-7v16l1 -12v11v-7l1 9v5l1 -3v-14v14l1 -36v29v8l1 -3v-2l1 10v-14v2l1 7v-25l1 20v-4v6l1 -14v21v-7l1 -16v4l1 -18v27v-3h1v2l1 7v-22l1 18v-31v21l1 15v-7v-3l1 2v8l1 -28v19v-2l1 11v-4v-14l1 -2v10l1 -9v3v24l1 -17v7l1 -19v2v25l1 -26v13v-9l1 -10v-1l1 8v-20v24l1 2v22v-3l1 -8v-14l1 1v12v-2l1 -8v2v-18l1 -1v21l1 -6v-7v16l1 -27v-4v23l1 11v-20l1 17v-7l1 -13v16v-33l1 48v-1l1 -3v-6v-14l1 17v-13l1 13v15v-24l1 7v-4v-4l1 -2v10l1 2v-1v-1l1 -10v8v2l1 13v-3l1 -25v16v-8l1 -8v26v-15l1 19v-20l1 -8v-21v31l1 9v-16v4l1 -17v18l1 -7v27v-18l1 -17v9l1 1v4v-21l1 23v-11v16l1 -22v9l1 8v-25v11l1 9v-5v7l1 8v-9l1 -17v28v-5l1 -12v20v-6l1 -4v-13l1 18v4v-7l1 -18v22v3l1 -13v3l1 -9v8v-3l1 -10v24l1 -25v24v-10l1 -36v23v21l1 -7v3l1 -12v-8v15l1 24v-26v-6l1 15v-12l1 14v-15v30l1 -6v-5v-8l1 -3v-4l1 -2v19v1l1 -13v2v-5l1 17v-7l1 4v-21v8l1 -3v-2l1 -14v33v2l1 -17v2v3l1 15v-10l1 -19v21v-27l1 14v-24v30l1 -11v12l1 13v-25v10l1 5v-11v-16l1 20v-3l1 -1v4v-48l1 58v-38v27l1 1v13l1 -13v-16v7l1 5v7l1 1v-6v-3l1 -1v-7v22h1v-15l1 11v-13v11l1 3v-18v21l1 -26v35l1 -20v-10v14l1 -21v15v7l1 1v-16l1 -3v28v-10l1 11v-13v2l1 -16v5l1 21v-4v-1h1v6l1 -6v-9v-32l1 38v-12v-18l1 37v-4l1 2v-14v-15l1 28v-15v4l1 5v7l1 -14v8v4l1 2v-7v-1l1 -8v11l1 -11v15v-21l1 -2v5v27l1 -55v49l1 -3v-12v15l1 -15v-8v14l1 12v-7l1 -13v16v-10l1 14v-10l1 -28v31v-8l1 8v1v-23l1 19v-12l1 18v-1v-11h1v-7v3l1 18v-20l1 1v4v4l1 -6v-2v7l1 -3v5l1 -4v6v-8l1 -17v27v15l1 -8v-29l1 24v-25v2l1 6v20h1v-1v-3l1 -7v-13v4l1 -5v26l1 -28v14v3l1 5v-22l1 13v-2l1 14v-21v10l1 21v-17l1 3l1 1v-7v14l1 -12v-6v-8l1 19v-3l1 -11v-13v14l1 -12v31l1 -2v-26v32l1 -23v-16v23l1 1v-7l1 7v7v-4l1 -13v-1v4l1 17v-19l1 1v11v-4l1 9v-24v6l1 14v-6l1 15v-10v-30l1 20v-9v7l1 17v-27l1 13v-10v-2l1 19v17l1 -32v-6v3l1 4v21v5l1 -17v-5l1 9v-5v-4l1 17v-11v9l1 -5v3l1 1v-28v39l1 -10v-4v17l1 -19v-1l1 3v-4v15l1 -13v20v-21l1 9v-8l1 -18v22v-32l1 11v26l1 -33v24v7l1 -14v-1v14l1 -15v13l1 -15v-6v7l1 6v8v-7l1 11v-34l1 15v-9v26l1 -12v13v-6l1 -2v7l1 8v-28v6l1 5v-9v5l1 10v-13l1 -6v11l1 -9v17v-19l1 20v-12l1 12v7v-11l1 -43v38l1 4v-1v-13l1 19v-10v-25l1 41v-13l1 -12v-1v20l1 -12v15v-4l1 5v5l1 -15v-2v21l1 -24v18v-32l1 3v8l1 6v15v-14l1 6v13v-34l1 7v14l1 -12v18v-9l1 -1v4l1 -14v4v6l1 -11v-41v24l1 35v-5l1 -13v1v14l1 -21v19v6l1 -11v2l1 -6v-8v17l1 4v-25v5l1 22v-14l1 7v-9v16l1 -25v17v8l1 -5v-18l1 18v14v-40l1 19v7l1 6v-6l1 9v-20v-11l1 5v29l1 -12v14v-6l1 -4v6v-30l1 21v-5l1 7v-19v15l1 -13v2v-7l1 -12v36l1 -15v-4v5l1 13v-12v-16l1 16v-12l1 20v-1v-6l1 17v-26l1 13v-16v3l1 -8v15v-2l1 18v-4l1 -16v-25v47l1 -22v30v-28l1 2v-14l1 31v-14v7l1 17v-21v6l1 -5v-3l1 7v-2v-13l1 14v-20v14l1 -10v6l1 -8v13v10l1 -12v-4l1 9v-1v-10l1 -7v18v7l1 -33v11l1 12v1v-14l1 -1v8v5l1 11v-29l1 -2v42v-40l1 8v17v7l1 -17v6l1 12v8v-20l1 -5v7l1 -9v22l1 -7v-21v19l1 -35v2l1 28"/>
<path class="curve" stroke="#1A6FDF" d="M252 142v94l1 22v120v-95l1 6v-17l1 35v-37v29l1 53v-145l1 -63v123l1 31v16v70l1 -165v150v12l1 -58v-116l1 98v90v-14l1 -85v61v46l1 -30v-62l1 -82v236v-28l1 22v102v-75l1 16v-130l1 94v97v-127l1 73v87l1 -53v10v25l1 -40v126v-90l1 -63v20l1 -5v10v-11l1 145v-89v138l1 -48v65l1 -126v-3v84l1 -84v124v-26l1 10v57l1 -51v-57v129l1 -69v48v-73l1 60v-2l1 7v21v60l1 -93v101l1 -48v-9v52l1 -27v-32v45l1 31v50l1 -40v-8l1 16v-37v32l1 -11v-21l1 48v-13v-76l1 46v63v-31l1 -17v-19l1 35v21v7l1 -37v12v25l1 -7v7l1 -30v41v-30l1 -9v13l1 36v-58v57l1 -27v32v24l1 -45l1 11v-8v25l1 3v-12v-56l1 33v35l1 -25v27l1 -32v36v26l1 -15v-22h1v-27v49l1 -33v9v15l1 -23v10l1 32v-45v55l1 -27v2l1 -8v27v-14l1 3v-26v42l1 -18v9l1 22v-95v72l1 30v-63v57l1 -30v-10l1 34v-3v3l1 -8v30v-6l1 -20v-26l1 11v-25v27l1 27v-7v36l1 -16v2l1 -23v-7v26l1 2v18l1 -24v-6v-2l1 24v-55v20l1 27v9l1 -2v-7v5l1 -7v-4v-11l1 6v27l1 -8v16v5l1 -50v52v-51l1 52v-10l1 -16v24v-6l1 14v5v-4l1 10v-47l1 41v-41v80l1 -39v-10v18l1 -28v12l1 20v-13v-64l1 69l1 15v-10v26l1 -19v-68v42l1 11v-11l1 -20v34v-38l1 28v21v-37l1 76v-26l1 -15v21v-13l1 9v-84l1 59v14l1 -31v35v-24l1 12v-31v62l1 -40v14l1 22v-44v40l1 -54v27l1 -4v13v-18l1 50v-31v13l1 -18v7l1 -14v28v-60l1 -15v64v-4l1 -6v-23l1 -18v68v-9l1 7v1v8l1 -36v29l1 -57v16v39h1v-7v-45l1 49v10l1 -25v-8v20l1 -52v34l1 -4v25v-15l1 3v33v-42l1 35v-29l1 25v-76v44l1 -12v-2v44l1 13v-30l1 -26v18v-15l1 -4v47v-32l1 -43v60l1 22v-28v4l1 -17v25v-18l1 37v-54l1 -19v8v56l1 -33v46l1 -45v7v17l1 -25v4v-18l1 19v-3l1 37v-11v-12l1 -15v6v-35l1 51v-11l1 -10v10v-15l1 21v-44v40l1 -32v26l1 -36v60v-35l1 19v-13v-22l1 47v3l1 -5v-23v36l1 -33v25l1 -3v-13v-15l1 20v-2v-9l1 5v34l1 -31v-10v-23l1 -27v37v13l1 19v-19l1 -15v-12v45l1 -21v-13v-28l1 41v15l1 3v-6v5l1 -30v-6v9l1 -12v36l1 -16v15v-8l1 -27v28v30l1 -25v8l1 12v-11v-35l1 -20v50l1 -31v-5v47l1 -19v-4l1 30v-20l1 -30v-5v-17l1 52v-53v32l1 38v-40l1 24v-18v13l1 -30v23v10l1 -26v16l1 13v-37v37l1 4v-2v15l1 -14v-56l1 62v-17v20l1 -8v-47l1 16v31v-11l1 15v-1v2h1v-23l1 -6v3v13l1 20v-21v15l1 -36v8l1 -5v23v23l1 -51v-6v52l1 -27v-24l1 45v-61v49l1 13v-51v26l1 18v-31l1 50v-75v59l1 -21v14l1 -17v-10v34l1 -31v22v7l1 -8v13l1 -3v-35v24l1 -29v17v27l1 12v-18l1 -17v5v15l1 -37v50v-7l1 -23v-53l1 47v26v-30l1 -2v-6v28l1 7v-17l1 -6v-29v-14l1 65v-4l1 -8v4v-15h1v5v-25l1 33v15l1 7v-7l1 11v-42v10l1 11v8l1 10v-10v-59l1 76v-35v-13l1 13v9l1 -22v34v-29l1 -21v49v-3l1 -17v-18l1 -9v16v26l1 7v-23l1 -3v26v-20l1 -5v-16v39l1 -28v31l1 -12v-6v-35l1 -44v73v-5l1 -11v43l1 -38v36v-57l1 5v22v24l1 -52v33l1 3v-9v38l1 -35v-12v14l1 4v18l1 -28v9v4l1 10v-28l1 -9v19v-10l1 -11v-6v31l1 8v3l1 -7v-11v-8l1 27v-10v19l1 -44v34l1 -13v19v-7l1 6v-50v32l1 10v12l1 -5v-21v-26l1 59v-7v-12l1 8v14l1 -25v-15v39l1 -28v-15v-1l1 28v-63l1 45v24v-34l1 38v-35l1 37v-35v26l1 -34v9v6l1 8v-21l1 48v-34l1 -3v-5v-58l1 72v-14l1 13v-31v63l1 -66v49v20l1 -15v-13l1 -7v4v-16l1 16v1v29l1 -39v-11l1 27v20v-7l1 -56v46l1 1v2v-26l1 23v4v9l1 -21v-22l1 23v-20v14l1 1v-1v3l1 -20v12l1 18v-12v4l1 -10v6v-5l1 30v-29l1 -20v47v-54l1 29v9v22l1 -47v36l1 -6v-19v26h1v2l1 -16v-13v4h1v13v-8l1 14v-56l1 41v31v-11l1 -50v54v-13l1 -14v24l1 -38v-14v48l1 -35v36v2l1 -20l1 14v-26v38l1 -8v3v-31l1 -1v3l1 32v-22v-6l1 32v-10l1 -25v-1v8l1 -5v4v3l1 5v11l1 -9v3v-59l1 48v4v4l1 -2v3l1 -14v10v-16l1 26v-17v-10l1 34v-20l1 -2v10v3l1 17v-47v36l1 4v-30l1 37v-43v10l1 -3v14l1 15v8v-55l1 37v-40l1 42v-6h1v-1v13l1 -7v-34v12l1 46v-6l1 -32v7v5l1 -26v44v-47l1 21v-8l1 6v-12v20l1 4v-22v11l1 21v-44l1 3v-5v27l1 -5v12v9l1 -16v-2l1 13v-47v60l1 -10v-2l1 -35v29v1l1 8v-2v7l1 -37v8l1 -8v29v-66l1 70v13v-23l1 -6v-12l1 29v-25v-24l1 47v-2v12l1 -27v-11l1 2v-2v-12l1 25v-15v31l1 -2v-16l1 17v-22v-17l1 20v18h1v-37v37l1 -13v6v-5l1 -19v28l1 11v-47v24l1 -9v13v-14l1 -10v-2l1 30v2v-13l1 4v-7v21l1 18v-36l1 -6v2v-21l1 17v21v-23l1 19v-25l1 20v-4v4l1 3v21l1 -21v29v-37l1 -9v-24v36l1 16v11l1 -60v58v-35l1 44v-27v-13l1 7v6l1 11v1v-31l1 11v10v-6l1 16v-31l1 -5v35v-13l1 -17v28v-50l1 12v33l1 -22v-14v49l1 -28v13l1 1v-15v19l1 12v-19l1 -11v11l1 2v-1v-24l1 14v20v-6l1 -27v31l1 -3v-5v14l1 -30v42v-53l1 33v10l1 -21v26v-30l1 -5v22v-3l1 -22v26l1 -10v-5v-23l1 36v-8l1 -19v50v-26l1 20v-1v-61l1 35v-24l1 31v-13v15l1 2v-7v-3l1 -26v31l1 -9v10v-6l1 20v-37v27l1 -8v4l1 -21v9v8l1 -2v-3v-7l1 4v-14l1 -7v20v27l1 -50v-10l1 48v1v19l1 -38v26v-48l1 63v-29l1 -10v17v5l1 -15v11v-2l1 -4v7l1 -5v-16v19l1 -8v13v-26l1 32v-33l1 46v-17v7l1 -37v13v21l1 -9v-31l1 24v-9v28h1v-28v-37l1 53v-17l1 23v-35v28h1v17l1 -17v-9v-21l1 39v-31v21l1 -1v9l1 8v-5v-45l1 45v-9v-25l1 43v-31l1 14v-10v-11l1 16v1v-15l1 2v20l1 -7v14v-39l1 37v-18v-28l1 18v17l1 6v-1v-24l1 10v5l1 -53v64v-4l1 -2v-8v-2l1 9v-16l1 4v12v23l1 -39v25v-4l1 -6v13l1 -5v-11v6l1 -10v16v-8l1 11v-10l1 -8v8v14l1 -15v-5v-16l1 19v5l1 9v-51v49l1 2v-12l1 19v-39v15l1 -5v20v-6l1 -20v-1l1 -43v40v39l1 -23v6v-22l1 19v-9l1 12v-14v-15l1 33v15v-10l1 -40v23l1 8v8v-29l1 12v6v6l1 -5v2l1 -13v-12v43l1 -5v-16l1 -2v19v-10l1 -3v1l1 -5v-15l1 3v2v5l1 13v-2v-18l1 9v-10l1 8v3v-5l1 24v-16v6l1 -21v22l1 -12v9v-13l1 -4v14v-4l1 -1v-9l1 16v-5v6l1 7v-15l1 -3v16v-37l1 36v-20v6l1 25v-20l1 18v-16v-12l1 -22v20v30l1 -13v-30l1 23v-28v40l1 -2v8v-11l1 -25v32l1 -24v6v-5l1 15v-4v-38l1 54v-27l1 -14v19v-21l1 54v-22v10l1 -9v-4l1 -8v18v-24l1 31v-33l1 18v17h1v-8v-13l1 -20v10l1 27v9v-20l1 12v-14v6l1 -56v67l1 -24v-26v36l1 5v-38v51l1 -4v-5l1 -19v-6v13l1 -40v41v-3l1 4v-23l1 19v5v-33l1 8v5l1 30v-2v-10h1v2v-2l1 -13v22l1 -16v9v1l1 -2v-15v7l1 13v-14l1 3v-4v9l1 -19v10v19l1 2v1l1 -22v14v-4l1 -4v-20v-20l1 41v-36l1 26v-11v23l1 11v-22l1 -13v38v-17l1 -4v-5v21l1 -5v-22l1 -16v29v-14l1 13v-4v11l1 -2v5l1 -9v-16v15l1 -7v18v-19l1 37v-10l1 -12v16v-29l1 6v14v-13l1 19v-6l1 -6v13v-34l1 24v-24l1 18v-7v16l1 -7v1v-8l1 -19v29l1 -5v-7v-8l1 14v4v2l1 -7v-3l1 11v-4v-15l1 11v7v-17h1v1l1 -1v15v-8l1 -1v2v21l1 -19v-5l1 -2v11v-4l1 20v-3l1 9v-23v-29l1 -3v42v-22l1 -10v23l1 17v-43v27h1v-33v22l1 -6v-14l1 28v10v-23l1 11v-11v5l1 15v-9l1 4v-1v-3l1 -5v2v18l1 -24v25l1 -55v48v-8l1 -22v23l1 13v1v-20l1 -2v-6v8l1 10v-13l1 -16v33v-64l1 59v-24v-13l1 18v10l1 -6v-11v47l1 -32v11v4l1 -10v-1l1 -5v15v-25l1 39v-10v3l1 -16v8l1 -14v17v-29l1 9v17v12l1 -4v3l1 -36v8v25l1 -45v35l1 19v-39v-4l1 20v11v-30l1 25v-6l1 -6v2v10l1 6v-23v34l1 -27l1 -3v12v-8l1 -8v23v-13l1 -4v19l1 -3v-36v10l1 24v-19v5l1 -17v5l1 42v-21v-25l1 -5v34l1 6v-17v11l1 -7v13v-25l1 3v2l1 19v6v-4l1 -21v26v-29l1 -19v36l1 -5v-17v1l1 21v-5v-4l1 5v-12l1 4v-15v38l1 -36v6v13l1 -7v-9l1 11v7v-7l1 12v6l1 -4v-1v-12l1 -9v8v-19l1 24v6l1 1v2v-7l1 -24v37v-24l1 8v-12l1 17v-16v17l1 -15v29v-27l1 -4v28l1 -30v25v-27l1 14v-9v4l1 19v-38l1 6v30v-20l1 2v14l1 4v-31v24l1 -18v-18v25l1 17v-25l1 30v-5v-63l1 62v-15v17l1 -10v-4l1 28v-18v-17l1 -3v8v15l1 -16v11l1 4v-10v-38l1 49v-26v12l1 20v-6l1 -8v3v-9l1 15l1 -26v15v10l1 -10v-30v37l1 9v-30l1 -18v13v33l1 7v-40v21l1 -9v9l1 -28v25v5l1 -6v16v-16l1 3v21l1 -9v1v3l1 -21v-12v12l1 21v2l1 -29v15v-3l1 13v6v-57l1 44v-5l1 11v-36v27l1 -2v-2h1v-21v40l1 -27v16v-3l1 3v-13l1 19v-7v-14l1 14v-1v-10l1 3v6l1 -5v11v-22l1 24v4v-22l1 20v-4l1 -8v-12v15h1v-10l1 11v-9l1 -17v23v1l1 6v-1l1 4v-1v-5l1 -11v-2v11l1 -9v18l1 -46v-9v43l1 -8v5v-9l1 18v8l1 -26v22v-16l1 15v-2v-22l1 -10v25l1 3v-8v10l1 11v-17v21l1 -27v11l1 -8v18v-7l1 -16v-12l1 8v7v17l1 -20v6v5l1 -22v27l1 -35v34l1 -6v13v-9l1 -6v18l1 -8v5v-9l1 -21v21v-3l1 -5v15l1 -15v9v1l1 10v-10v-21l1 -3v20l1 -4v6v7l1 6v-43l1 36v-14v-20l1 27v-2v-5l1 7v-7l1 7v-20v9l1 19v2v-7h1v1l1 -21v21v-3l1 -7v21v-25l1 -2v-13l1 31v-5v-8l1 7v11v-28l1 16v-8l1 16v-25v18l1 4v-19l1 -5v26v-24l1 -10v20v18l1 -22v-7l1 26v-36v27l1 -1v-17v13l1 -15v18l1 -5v4v-2l1 -5v1v10l1 -16v14l1 -18v9v9l1 7v-9v-19l1 17v-11l1 15v2v5l1 11v-23l1 3v1v-11l1 22v-36v40l1 -18v16l1 -10v-19v31l1 -17v1v-1l1 -1v-8l1 5v1v-7l1 3v11v11l1 -23v14l1 -28v31v6l1 -28v23v7l1 -31v31l1 -33v29v-16l1 3v20v-17l1 4v-6l1 -5v-16v25l1 -1v-35l1 24v-1v26l1 -1v-8v-4l1 -9v-39l1 59v-9v-13l1 5v-12v19l1 6v-41l1 26v18v-8l1 -4v15v-25l1 8v6l1 3v-31v25l1 7v11v-8l1 -20v-12l1 33v7v-19l1 1v-12l1 19v-9v19l1 -5v-7v-1l1 -11v-10l1 31v-39v32l1 -3v-20v37l1 -7v-6l1 -10v-13l1 24v-19v14l1 -26v24l1 -17v25v-21l1 24v-15v17l1 -14v7l1 2v-14v-7l1 9v-3l1 -5v-7v3l1 8v-25v36l1 -16v22l1 -49v40v-5l1 -17v21v7l1 9v-15l1 -33v28v-23l1 15v15v10l1 -12v-10l1 10v-5v-5l1 12v10v-11l1 -11v16l1 3v-1v-8l1 -1v-1l1 13v-14v8l1 3v7v-6l1 -4v-9l1 -3v5v-3l1 15v-22l1 1v14l1 -4v4v8l1 -9v11v2l1 -24l1 -4v16v-5l1 -7v11v15l1 -53v17h1v16v9l1 -9v-3l1 17v-8v-12l1 -14v13v12l1 9v-44l1 29v-8v9l1 14v-47v25l1 -8v25l1 -8v-19v22l1 4v4v2l1 -24v11l1 17v-39v4l1 2v33v-19l1 -16v28l1 -2v-6v16l1 -21v-11v5l1 -12v19l1 2v2v5l1 4v-4l1 -7v5v-7l1 1v-8v14l1 14v-9l1 -39v19v14l1 -2v-1v4l1 -8v-6l1 -8v21v-1h1v-4v-14l1 23v-42l1 27v-8v24l1 -5v1v-6l1 20v-26l1 23v-21v-9l1 14v1h1v1v-6l1 -9v4v-13l1 20v7l1 -1v8v-9l1 2v-32v19l1 -20v45l1 -22v-10v10l1 9v-7h1v-2l1 -9v10v-1l1 3v-5v13l1 -15v11l1 -15v18v-6l1 1v9l1 -25v10v4l1 -17v21v-3l1 -16v-24l1 38v-22v21l1 11v-15v-11l1 15v-4l1 18v9v-23l1 17v-13v6l1 -9v-9l1 28v-15l1 -19v17v9l1 -2v-32l1 35v-10v-2l1 15v-3l1 9v-9v-17l1 5v21v-38l1 33v-3l1 -32v16v7l1 -22v22v-5l1 10v-5h1v-15v21l1 -5v18v-4l1 -25v13h1v-11v11l1 -5v4v16l1 -26v-13l1 5v15v-3l1 -1v-16l1 5v19v-2l1 1v4l1 -5v20l1 -26v10v7l1 -10v6v-24l1 27v-12l1 -3v13v3l1 -16v8v5l1 5v-21l1 -13v26v-12l1 -8v1v19l1 -12v-2l1 -31v36v-11l1 3v3l1 17v-13v-17l1 24v-7v11l1 -11v-1l1 -4v12v1l1 1v-9v1l1 -31v40l1 -15v14v-1l1 -19v9v-1l1 19v-52l1 10v36v6l1 -6v-10v12l1 -12v10l1 -49v45v2l1 -33v24v4l1 1v-8l1 12v-6v7l1 7v-9l1 -6v-19v19l1 6v-5v-6l1 27v-15l1 14v-3v-8l1 -6v-2v-1l1 -16v12l1 1v8v-31l1 10v23l1 -15v-3l1 16v-18v26l1 -10v-15v19l1 -8v2l1 3v14v-13l1 -6l1 -7v-3v16l1 -2v-25v12l1 11v2l1 -16v15l1 -7v5v1l1 -26v38l1 -22v20v-3l1 -18v24v-4l1 2v-5l1 -10v-11v22l1 -18v23v-43l1 36l1 -8v2v3l1 14v-26l1 2v13v7l1 -14v-11v30l1 -5v-12l1 9v-5v-2l1 -11v-2l1 1v17l1 14v-24v-1h1v12v-34l1 42v-25l1 2v-3v-7l1 12v2v7l1 -12v4l1 -5v21v3l1 -15v-5l1 20v-4v-6l1 -7v-1v-8l1 14v-7l1 -12v20v-36l1 37v-6v19l1 -16v4l1 1v-10v15l1 -14v21v-13l1 -23v16l1 -5v16v3l1 -30v5v2l1 11v-15l1 19v-12l1 17v-28l1 17v-8v24l1 -3v-7v-10l1 -9v10l1 6v-8v9l1 -4v-3v12l1 -12v18l1 -5v-16v14l1 -12v3v5l1 -22v14l1 12v-1v-7l1 16v-29v16l1 15v-6l1 -28v15v-28l1 31v-5v-22l1 -3v39l1 -20v21v-5l1 11v-23l1 17v-2v-34l1 15v13v14l1 -20v24l1 -11v-17v-2l1 8v-8v8l1 10v-8l1 -23v24v-4l1 -3v19v-3l1 5v-19l1 8v8l1 -21v-1v5l1 5v-6l1 6v-4v8l1 6v-2l1 -11v-19v31l1 2v-19l1 16v-2l1 1v-10v-43l1 54v-11v9l1 -7v-3l1 1v13l1 -21v9v1l1 -5v14l1 -22v23v2l1 -1v-8v-40l1 38v-2l1 -17v24v9l1 -7v-2l1 11v-12v-4l1 -26v18v8l1 7v2l1 8v-14v17l1 -17v-23v26l1 -9v13l1 8v-19v5l1 -8v4v-5l1 11v-10l1 -6v17v-2l1 -16v7v8l1 11v-11l1 -21v23v-3l1 7v-7l1 -2v-3v10l1 4v-39v27l1 10v-7l1 -7v-8v10l1 7v-9v18l1 -4v-24l1 13v3v6l1 4v-14v3l1 -22v30l1 -8v4v5l1 -33v7v16l1 14v-16l1 -2v11v9l1 -38v36l1 -26v20v-3l1 -16v23v-7l1 -3v-15l1 2v11v13l1 -26v19v-8l1 20v-15l1 -7v9v-11l1 -9v-4v26l1 8v7l1 -17v11v-20l1 23v-31v13l1 15v-18l1 -3v7l1 -8v2l1 9v-4v13l1 -21v21v-10l1 9v-22l1 9v12v-13l1 5v-10v7l1 1v2l1 13v-20v-4l1 18v-15v-8l1 3v-5l1 5v15v-34l1 29v6v-24l1 25v-17l1 18v-23v-1l1 20v-11v-2l1 9v-6l1 7v5v3l1 -13v-3l1 -4v5v-3l1 12v-27v31l1 -17v11l1 1v-32v22l1 18v-16v9l1 -30v34l1 -9v6l1 -14v-6v-1l1 17v4l1 -12v11v-25l1 34v-19v17l1 -2v5l1 -2v-18v13l1 3v2l1 -3v-4v-15l1 10v1v1l1 -10v17l1 -12v14l1 -18v7v2l1 8v-15l1 -25v24l1 7v-15v18l1 -49v42l1 2v-14v26l1 -4v-5l1 -25v32l1 -45v24v-9l1 18v17l1 -3v-28v20l1 -7v-15l1 2v13l1 2v-11v23l1 -3v5v-3l1 5v-25l1 13v-27v28l1 -7v9v-14l1 2v10l1 -7v11v-2l1 5v-21v20l1 1v-22l1 13v12v-2l1 -5v5l1 -10v11l1 -20v-13v5l1 21v-11l1 9v-26v20l1 -2v-20v10l1 14v11l1 -6v9v-35l1 24v-10v6l1 10v-11l1 -1v5l1 -5v14v-8l1 3v3l1 -9v20v-6l1 -10v-22l1 13v14v-26l1 17v8v-5l1 -21v10l1 17v3v-17l1 17v-6v-13l1 19v-3l1 -10v5v-19l1 17v-7v-1l1 13v-15l1 -7v18v4l1 -3v-20v18l1 5v6l1 -11v12v-23l1 19v4v-24l1 8v-1l1 14v-18v5l1 2v-9l1 -2v13v-20l1 14v7v-8l1 4v-17l1 17v4v-1l1 -10v24v-2l1 -10v-7l1 -2v10v11l1 4v-16v2l1 -7v-8l1 20v-26v21l1 -2v-4v18l1 -48v35l1 -16v20v7l1 -4v1l1 6v4v-29l1 15v-8v-13l1 20v-6l1 -12v8v2l1 11v-17l1 11v-13l1 2v4v-4l1 6v-12v32l1 -11v-10l1 -18v36v-10l1 -10v-11v21l1 12v-21l1 -5v4l1 -2v14l1 -14v-3v10l1 8v-2v-14l1 14v-22l1 14v4v-12l1 10v-29v11l1 25v-3l1 13v-26v4l1 3v15v-32l1 4v20l1 1v-1v-14l1 5v5v2l1 10v-7l1 9v-26v12h1v4l1 5v8v-9l1 -3v-1v-14l1 -1v20l1 -1v-20v30l1 -15v-12v7l1 6v-12l1 14v2v-11l1 4v-8v-7l1 -3v36l1 -23v-3v-3l1 13v-8l1 12v7l1 -23v1v18l1 -23v21l1 -13v16v-12l1 8v-2v-9l1 -3v16l1 -28v27v6l1 -11v-28v30l1 7v-6l1 -10v-2v1l1 -8v-14v25l1 -3v4l1 -4v-11v11l1 14v-20v-9l1 17v-23l1 13v25v-8l1 6v-6l1 4v-11v-5l1 24v-26v11l1 -13v14l1 16v-17v-6h1v5v9l1 -1v-1l1 2v-10v-4l1 -5v5v6l1 -9v7l1 10v-20v11h1v-16v9l1 -2v-18l1 12v4v9l1 18v3v-11l1 -41v34l1 3v-11v-7l1 9v-2l1 2v8v2l1 13v-18l1 -4v-8l1 24v-1v-19l1 22v-16v2l1 -5v13l1 -14v17v-20l1 9v4v-5l1 -14v25l1 -8v10v-22l1 3v16v-6l1 8v-11l1 -11v17v-6l1 15v-35l1 31v-12v5l1 -16v15v2l1 7v-26l1 29v-34v4l1 -8v32v-2l1 -9v-11l1 23v-25v25l1 -18v7v-1l1 2v-8l1 23v-27v17l1 -3v5v-15l1 3v8l1 5v-32v26l1 -9v9l1 -15v-4v4l1 -9v-1v40l1 -12v5l1 -19v5v14l1 -32v19v-19l1 27v-16l1 -6v19v-7l1 4v3v-7l1 20v-25l1 7v13v-19l1 25v-7v-25l1 9v12l1 -24v21v-1l1 -3v-7l1 2v15v-5l1 -11v-7v11l1 -8v1l1 19v-7v-31l1 31v-11v21l1 -56v51l1 -15v2v20l1 -13v-15v20l1 -18v15l1 -19v-16v42l1 -14v10v3l1 -10v-2l1 -2v23l1 -13v13l1 -22v-6v7l1 8v-9v-5l1 3v11l1 -1v-20v16l1 -2v1v-6l1 1v9h1v-5l1 -5v20v-32l1 29v-11l1 11v-5v-4l1 -7v3v-7l1 13v-23l1 34v-17l1 8v-4v7l1 -12v8l1 -12v4l1 3v9l1 -16v-1v12l1 7v-4v-18l1 27v-19l1 7v-11v21l1 -18v15v-16l1 -15v23l1 -26v23v-7l1 -23v19v6l1 25v-11l1 -12v11v2l1 -14v18v-2l1 -19v-18l1 33v-8v-5l1 12v2l1 -12v14v-3l1 -31v41v-42l1 8v23l1 -20v12v11l1 -3v1v-26l1 30v1l1 -8v3v-35l1 33v2v1h1v10l1 -18v8v-4l1 -17v2v3l1 18v-8l1 4v-2v-2l1 4v-17l1 19v-24v12l1 6v-6v8h1v-15l1 15v-48v56l1 1v-28v21l1 1v4l1 -8v6v-16l1 14v-6v-7l1 5v7l1 5v4l1 -22v14v-1l1 -6v-2l1 -8v7v7l1 8v-15l1 6v-1v8l1 -12v-6v11l1 -9v7l1 3v-17v17l1 -6v16v-23l1 14v-3l1 3v-7v9l1 4v-12v-1l1 8v-13l1 -5v20v-12h1v18v-2l1 7v-35l1 21v-11l1 -13v14l1 -15v5v-29l1 53v-4v3l1 -15v15l1 -17v26v-28l1 6v-13v11l1 6v-2l1 21v-15v-4l1 -21v22v15l1 -44v39l1 -10v10v11l1 -29v14v-14l1 15v-13l1 -13v13v8l1 4v-5l1 12v-13v-7l1 21v-2v-35l1 24v-24l1 18v-2v6l1 -20v5v17l1 16v-4l1 -11v8v-16l1 2v-1l1 4v-2l1 2v12v-10h1v-11v15l1 5v-33l1 15v-4v-8l1 24v-15v10l1 13v-14l1 1v-4v9h1v7l1 -19v26v-17l1 5v-7l1 6v12l1 2v-2v-8l1 -4v-4l1 -2v7l1 8v-8v2l1 -28v10v19l1 -6v-17l1 13v-10v9h1v-4v13l1 1v-4l1 -16v9v15l1 -24v7l1 -5v8v2l1 18v-20v18l1 -13v-26l1 22v-2v9l1 -8v15v-10l1 -5v6l1 7v9v-13l1 2v-2v-11l1 21v-24l1 21v-47v19l1 8v15v-10h1v8h1v-19v12l1 -24v11l1 15v-8v5l1 13v-17v14l1 -25v5l1 32v-21v11l1 -31v22v-4l1 -4v16l1 -11v-14v22l1 -13v9v-33l1 5v26l1 2v-8v7h1v4v-27l1 -9v25l1 20v-2v-18l1 15v-3l1 -7v5v-19l1 27v-13v12l1 -13v18l1 -11v-18v20l1 -10v8v-7l1 6v-10l1 16v-8v-10l1 15v-16v-1l1 7v20l1 -39v33v-11l1 -5v-16v20l1 9v-16l1 -13v30v-16l1 7v-2l1 4v-7v-2l1 -28v51v-38l1 20v11l1 4v-31v32l1 -39v37v-17l1 14v3l1 -6v-33v24l1 -1v-8v-4l1 24v-14l1 4v5v15l1 -30v2v14l1 -48v55l1 -9v-6v11l1 -7v-20v29l1 8v-11l1 3v-4v2l1 -7v-32l1 32v-29v30l1 5v11v-19l1 -3v-33l1 54v-9v-3l1 -1v-2v8l1 -7v8h1v-12v-12l1 21v10v-11l1 -5l1 -15v25v-7l1 3v-28v18l1 7v5l1 -18v22v-26l1 2v5l1 5v1v-9l1 12v-14v25l1 -30v18l1 -16v10v10l1 -4v5v-16l1 22l1 -23v6v14l1 -16v18v-12l1 13v-21l1 9v-3v20l1 -7v3v-9l1 -4v15l1 -10v-4v-5l1 5v-3l1 -13v29v-28l1 26v-12v7l1 -10v5l1 -17v29v-26l1 6v-9v20l1 -23v15l1 -5v6v-6l1 -10v20v14l1 -18v-6l1 14v-2v9l1 -18v15v-21l1 -2v-12l1 10v1v13l1 -25v42l1 -6v-33v30l1 3v-4v-16l1 -3v5l1 12v-2v-9l1 10v-10v18l1 -25v12l1 2v5v13l1 -34v21v-5h1v-11l1 12v-26v17l1 12v1v-41l1 44v-4l1 6v-12v3l1 -17v25l1 3v-35v43l1 -20v15v-22l1 14v-15l1 12v-7v14l1 -11v-3v1l1 -11v2l1 -29v51v-16l1 5v-7v-11l1 -10v8l1 28v1l1 -9v13v-11l1 12v-11l1 -3v-14v14l1 3v-10l1 15"/>
<path class="curve" stroke="#37AD6B" d="M252 249v-29l1 96v-107v73l1 71v-55l1 -188v126v95l1 -113v48v-34l1 7v97l1 -97v69v-142l1 65v52v71l1 -61v-1l1 91v-227v137l1 -86v191v-175l1 200v-37l1 -64v44v147l1 -57v-106v-72l1 90v83l1 -53v120v-82l1 111v-58l1 18v-38v71l1 -89v106v-42l1 14v132l1 -74v9v46l1 -34v79v-78l1 11v18l1 -92v112v22l1 41v-30v56l1 -76v83l1 -20v-63v40l1 40v-36v57l1 -24v32l1 34v-37v-12l1 46v26l1 -13v55v-45l1 17v-95v88l1 29v-65l1 35v-3v-1l1 2v20v-36l1 16v32l1 -6v22v-29l1 -11v-39v47l1 22v-46l1 51v-4v11l1 -9v11v-62l1 48v52l1 -27v25v-55l1 -12v49l1 -25v23v-14l1 -34v56v22l1 -45v7l1 -2v-8v43l1 28v-67v37l1 18l1 -52v24v-2l1 -12v37v10l1 -5v7l1 -17v14v-19l1 12v-7v-16l1 -18v-3l1 36v-1v17l1 -34v-12l1 50v-29v26l1 -3v-7v14l1 -28v52l1 -15v-11v20l1 -29v39v-30l1 30v-24l1 -14v-40v29l1 -12v37v-48l1 56v1l1 21v-29v-17l1 37v-4v3l1 -2v6l1 15v-54v67l1 -17v-24l1 -13v19v10l1 -5v7v-22l1 28v10l1 -7v-9v-22l1 -7v44v20l1 1v-72l1 58v-16v-32l1 58v-7v9l1 10v-36l1 -4v58v-53l1 27v-7v2l1 30v-17l1 15v-64v-7l1 54v26v-48l1 32v-45l1 -5v10v50l1 13v-5l1 -10v17v-46l1 15v17v8l1 -21v-17l1 67v-37v12l1 9v-7v-9l1 -41v43l1 9v14v-38l1 30v-11v-18l1 15v8l1 -4v-23v20l1 -5v-4v16l1 -13v12l1 -31v15v39l1 -24v-29l1 29v4v-30l1 41v-20v-11l1 -6v37l1 3v-56v49l1 -13v-63v70l1 27v-109l1 52v15v-66l1 75v-35v33l1 6v-19l1 -6v-9v2l1 36v-8v-48l1 34v11l1 -28v-2v3l1 40v-3l1 -24v-10v48l1 -13v-4v-26l1 41v-90l1 69v-11v-42l1 42v-3v20l1 -13v28l1 -17v-2v9l1 -30v13v40l1 -48v34l1 -29v27v-8l1 -15v-39v73l1 -19l1 -30v29v-14l1 -21v14l1 24v-3l1 -83v94v-14l1 -14v21l1 1v-15v-11l1 40v-5v-47l1 30v19l1 -22v-73v87l1 6v-13v-41l1 49v-23l1 -11v9v20l1 -20v10v-14l1 9v-66l1 103v-42v16l1 31v-32l1 -7v8v36l1 -25v4v-11l1 30v-41l1 -5v-1v13l1 1v-24v13l1 17v-14l1 -9v-12v17l1 24v-5v-13l1 -2v-16l1 53v-18v7l1 -43v7v10l1 -11v28l1 -21v10v-1l1 4v-23v-3l1 48v-14l1 -12v-10v39l1 -10v-11l1 -47v57v-8l1 -7v2v-5l1 3v3l1 -9v-2h1v28v-23h1v-14l1 3v-22v51l1 -12v-7v16l1 -6v1l1 2v-67v60l1 -36v50v-21l1 17v-18l1 -33v-8v30l1 8v10l1 -8v-24v59l1 -21v11v-39l1 43v-39l1 38v-1v-54l1 13v38v13l1 -12v-29l1 13v16v-28l1 -20v52v-19l1 13v-39l1 23v14v15l1 -42v21v-8l1 6v-12l1 37v-14v-21l1 -38v38l1 8v11l1 -8v10v-17l1 3v-81l1 83v-27v33l1 -29v-43v75l1 9v-44l1 23v6v-14l1 3v-22v20l1 19v7l1 10v-9v-43l1 49v-25v-27l1 15v-23l1 20v-21v47l1 -72v14l1 41v5v13l1 -48v27v-3l1 25v-13l1 9v-6v-8l1 16v6v-32l1 34v-49l1 -4v59v-61l1 53v-44v40l1 -27v34l1 -31v12v-35l1 21v31v-22l1 19v-16l1 -32v-1v33l1 18v-16l1 -49v53v22l1 -1v-3v-44l1 30v7l1 -20v-23v33l1 11v-18v-13l1 44v-4l1 -71v40v1l1 30v-6v-11l1 -33v26l1 28v-61v-1l1 18v36v-6l1 -7v-7l1 -40v64v-9l1 -12v10l1 -1v14v-24l1 7v-9v-16l1 24v-2l1 -8v13v-11l1 30v-12v-25l1 7v-13l1 38v-12v-8l1 1v2v-35l1 39v-2l1 -16v1v7l1 -35v26v16l1 11v-41l1 36v-18v17l1 -59v35v41l1 -32v27l1 -11v-26v36l1 -26v7l1 -16v31v-28l1 19v-28v21l1 -12v-16l1 6v23v-14l1 14v-21v-15l1 50v5l1 -28v19v-35l1 8v5v13l1 7v7l1 -5v-9v15l1 -36v8v33l1 15v-58l1 42v16v-11l1 -28v-24l1 9v-12v-8l1 -3v57v-12l1 7v-11l1 7v-11v-36l1 53v-26v30l1 4v-40l1 23v-4v-29l1 51v-22v-30l1 48v-21l1 -14v6l1 -7v11v-7l1 9v21l1 -16v4v-25l1 13l1 6v-9v22l1 -14v16v-5l1 11v-68l1 40v26v-9l1 -12v14v-22l1 6v-15l1 57v-48v10l1 -15v29v2l1 6v-26l1 6v27v-15l1 -9v18v-12l1 -4v7l1 15v-47v19l1 -2v16l1 -13v14v-8l1 -5v-8v20l1 3v-37l1 45v-24v6l1 -15v20v9l1 -18v22l1 -4v-16v-2l1 23v-46v26l1 -25v3l1 20v8v14l1 -40v-12v29l1 2v14l1 2v-14v-25l1 28v-21l1 10v9v11l1 -7v12v-34l1 7v24l1 -5v9v-22l1 -8v25v-7l1 -14v30l1 -27v-28v-1l1 35v-1v-15l1 2v-17l1 25v-2l1 -29v49v-40l1 21v-1l1 18v-12v13l1 19v-37v24l1 -21v20l1 -13v1v18l1 -25v10l1 22v-70v30l1 2v6v-15l1 23v-21l1 -4v26v-9l1 -2v24v-27l1 7v-25l1 21v16v-15l1 10v23v-27l1 15v-43l1 19v-10v10l1 9v-15v34l1 -36v17l1 24v-24v-13l1 18v-34l1 2v34v2l1 -8v4v-20l1 -8v9h1v13v1l1 8v-61v34l1 7v20l1 11v-9v-5l1 -1v-17v17l1 -17v3l1 -4v14v-15l1 11v-1v6h1v-6l1 -8v22v-6l1 -5v-20l1 21v-11v-6l1 16v-30v45l1 5v-3l1 -4v-3v-4l1 -11v14v1l1 -18v12l1 -6v10v12l1 -17v1v-8l1 6v12l1 -40v45v8l1 -15v-1v-17l1 17v-8l1 -4v-8v34l1 -26v21l1 -37v31v-1l1 -18v9v1l1 -14v20l1 2v-27v26l1 -11v19v-16l1 5v-12l1 -39v70v-11l1 -8v-7v21l1 -18v11l1 -13v14v-74l1 58v-9v40l1 -16v-9l1 -35v44v-18l1 19v-11l1 22v-13l1 -25v17l1 15v-37l1 25v7v-7l1 -1v-37v33l1 8v-2l1 14v-43v36l1 -15v16v-3l1 15v-27l1 -44v10v28l1 -19v37v5l1 -37v31l1 -53v17v42l1 -10l1 -19v19v-5l1 19v-50v15l1 14v22l1 -23v-65v61l1 -16v49v-22l1 -1v-22l1 32v-28v-4l1 17v4v-9l1 21v7l1 1v-24v7l1 -3v7v-7l1 -37v40l1 8v4v-3l1 -22v12v3l1 -3v16l1 -6v-7l1 -9v-11l1 24v-14v-1l1 14v-17v-8l1 37v-27h1v2v24l1 -36v19v9l1 8v-26l1 9v15v-47l1 46v-27v24l1 -10v-14l1 15v-13v8l1 -26v15v4l1 17v-4l1 -9v-28v4l1 24v-17l1 17v-1v3l1 5v-12v-61l1 73v-24l1 5v14v-12l1 19v-8v-25l1 -2v29l1 2v15v-30l1 21v4v-15l1 4v18l1 -39v41l1 -36v20v17l1 -38v3l1 17v-1v-4l1 -11v15l1 13v-25v18l1 13v-13v7l1 -16v-18l1 12v-51v52l1 5v9v-21l1 8v26l1 -11v-19v16l1 -13v4v-36l1 57v-16l1 15v-5v-49l1 22v5v11l1 -2v-38l1 52v-35v3l1 31v-16l1 13v-10v-14l1 10v-16v9l1 38v-39l1 29v13v-24l1 2v-47v23l1 3v13l1 -14v24v-28l1 25v-4v-6l1 14v-74l1 61v9v7l1 -4v-8v-9l1 27v-12l1 -40v29v4l1 6v-2l1 -6v-22v1l1 31v4v-19l1 15v-24l1 -2v29v14l1 -7v-16v14l1 -20v2l1 3v2v8l1 -19v32v-29l1 -38v23l1 21v4v-9l1 7v-31v37l1 -5v12l1 -23v28v-32l1 4v25v-22l1 9v4l1 9v3v-2l1 3v-21l1 14v-52v34l1 -14v28v-36l1 33v-22l1 11v-6v26l1 -3v-27v8l1 15v-17l1 8v9v-45l1 62v-21v-17l1 7v-29l1 27v1v16l1 -36v35v-3h1v-14l1 17v-6v5l1 14v-11l1 -46v42v-8l1 -47v60v-21l1 -9v32l1 -38v12v29l1 -16v16v-71l1 17v39l1 9v-16v21l1 -11v11v-10l1 -10v1l1 -6v18v-20l1 12v-4v-20l1 25v12l1 -22v23v-14l1 2v23l1 -7v-5v-16l1 -9v13v-42l1 30v31l1 -28v22v-2l1 -7v-8l1 -7v-6l1 25v-9v-17l1 32v-29v5l1 15v-24l1 14v-5v-16l1 28v13v-8l1 7v-29l1 21v1v2l1 -25v13l1 -8v9v12l1 2v-30v23l1 -14v24l1 -10v3v4l1 -19v-5v17l1 -41v38l1 18v-26v23l1 -11v-8v-15l1 10v17l1 -29v17v-17h1v20v10l1 -20v10l1 1v-2v12l1 2v-6l1 -9v7v-14l1 -1v5v18l1 4v-4l1 2v-26l1 30v-13v-3l1 9v-7l1 6v-4v-6l1 -5v15v-20l1 21v-6l1 -2v8v-17l1 14v4v-39l1 31v2l1 18v-21v-27l1 29v-1l1 -15v-1v-6l1 8v14v5l1 -17v1h1v16v-3l1 -31v30v-14l1 9v19l1 -27v21v-39l1 31v3v-5l1 -2v5l1 -1v-20v14l1 -9v9v-7l1 17v-33l1 35v9v-4l1 -4v-8v-31l1 42v-24l1 21v-32v13l1 -23v34l1 -15v-1v18l1 -4v7v1l1 -1v6l1 -26v13v10l1 -11v-4v9l1 -20v18l1 -5v-35v44l1 -7v-4v19l1 -9v-17l1 -14v34v-15l1 10v2v8l1 -19v27l1 -31v6v-1l1 7v12l1 3v-19v-6l1 5v13v-27l1 -24v46l1 6v-7v-34l1 39v-4v-3l1 1v-13l1 15v8v-16l1 2v-33v15l1 -11v29l1 -6v-1v7l1 18v-26v5l1 -23v10l1 23v-12v18l1 -31v21l1 12v8v-34l1 3v19v-51l1 48v-33l1 34v-12v11l1 -43v21v11l1 -2v3h1v18v-22l1 -15v30v6l1 1v-4l1 -26v9v21l1 -37v26v-13l1 13v8l1 -14v7v-8l1 2v14l1 -19v11v-12l1 -6v6v-6l1 -14v31l1 4v4v-27l1 25v-19v-13l1 32v-32l1 34v-22v10l1 17v-16v-25l1 27v11l1 -28v27l1 -14v16v1l1 -26l1 -14v13v14l1 -19v27l1 -6v-6v7l1 -3v4v-20l1 -10v7l1 -15v17v2l1 27v-17v18l1 -32v13l1 5v3v3l1 -6v2v-8l1 19v-9l1 -29v44v-15l1 9v-20v-5l1 15v4l1 -5v-17v23l1 -6v-19v28l1 2v-24l1 -10v9v-29l1 51v-4l1 -13v28v-16l1 -40v15v31l1 -49v13l1 20v10v-16l1 -12v20v11l1 -17v2l1 22v-1v-4l1 -22v24v-10l1 -6v15h1v-2v-6l1 7v-39v22l1 -9v27h1v2v-3l1 -19v-8l1 1v3v34l1 -16v-10v-6l1 13v-7l1 6v1v-10l1 17v-2v-12l1 1v3l1 -11v18v-10l1 -13v25v-4l1 -23v23l1 -14v19v-2l1 6v1v-31l1 18v6l1 -20v10v-3l1 4v-9l1 26v-10l1 -7v1v9l1 -14v2l1 5v-19l1 21v11v-2l1 -26v17l1 -7v-1v5l1 8v-7v-10l1 19v-10l1 -1v14v-9l1 -9v4v10l1 -28v26l1 -18v4v6l1 -19v-22l1 28v7v3l1 2v17v-26l1 20v14l1 -24v5v11l1 -26v8v-13l1 20l1 -8v-9v10l1 -23v30l1 4v1l1 4v2v-10l1 -11v-17v23l1 17v-28l1 20v-19v8l1 8v-1l1 2v-15v17l1 -5v3v1l1 -18v-7l1 21v-6v-11l1 3v16v-17l1 10v15l1 -9v6v-18l1 -3v-3v16l1 4v-3l1 -4v8v-12l1 -8v30v-29h1v25l1 -75v50v7l1 21v-19l1 2v-6v12l1 6v1v-15l1 11v-11l1 -22v42v-14l1 -38v29v-21l1 25v-22l1 9v-1v28l1 -32v19v6l1 -16v17l1 6v-13v-14l1 19v-13v-12l1 21v1l1 7v-1v-6l1 22v-25v-26l1 27v1l1 8v-16v12l1 -32v22l1 -2v3v10l1 19v-18v-15l1 28v-24h1v-2v5l1 -1v8v-21l1 31v-2l1 -2v-20l1 13v-15v25l1 -8v3l1 -9v-2l1 10v-25v22l1 -15v-15l1 7v32v-40l1 29v-11l1 7v2v-1l1 -6v-5v22l1 7v-12l1 9v-4v-26l1 8v17v-2h1v-2l1 -2v-4v-11l1 15v15v-18l1 3v3l1 -16v29v-7l1 -3v-31v33l1 -6v-10l1 5v21v-21l1 7v-11l1 -7v9v11l1 14v-25v-4l1 3v20l1 -8v9v-18l1 9v-12v11l1 7l1 -22v13l1 10v-5v-15l1 10v5l1 -21v8v13l1 6v-38v14l1 18v-13l1 -2v19v-13l1 4v-7l1 12v-14v2l1 -6v15v-25l1 20v-37l1 31v3v9l1 -23v-13v20l1 10v-4l1 -20v26v-5l1 6v-14v4h1v1l1 7v-9v9l1 12v-26v20l1 -21v7l1 -5v11v18l1 -17v13l1 -30v8v25l1 -26v9v21l1 -15v-1l1 -11v3v21l1 -32v20v-12l1 13v-18l1 10v11v1l1 -21v2v12l1 -13v-12l1 22v11v-30l1 23v-4v12l1 -21v3l1 11v-11v8l1 3v9v-29l1 11v-23l1 8v21v-13l1 18v-11l1 -23v21v-2l1 16v-8l1 -10v17l1 -2v-36v3l1 12v19v2l1 -5v-22l1 8v1v3l1 -9v19v-14l1 27v-3l1 -8v-12v12l1 -14v1v-3l1 16v-16l1 14v-7v26l1 -29v8l1 -10v11v-10l1 -1v17v-5l1 18v-22l1 4v-19v13l1 7v10v-22l1 12v-3l1 2v4v-11l1 -12v24v-9l1 -4v10l1 -18v6v6l1 3v5v5l1 -20v12l1 -11v20v-7l1 -32v12l1 13v-12v7l1 -7v18v16l1 -16v-4l1 1v-17v23l1 -10v15v-26l1 26v-33l1 11v23v-22l1 -18v29v-13l1 11v-5l1 -7v-13v-17l1 54v-3v-8l1 -6v11l1 -26v32v4l1 -20v21l1 -23v7v15l1 -10v-11v-9l1 2v17l1 -5v10v-40l1 34v-15v-3l1 23v-17l1 -5v-7v10l1 -18v12v22l1 -14v20l1 6v-46v25l1 6v-7v-7l1 25v-30l1 12v-2v-6l1 8v11l1 3v-31v16l1 9v3v-15l1 -13v12l1 10v2v-37l1 57v-16v-3l1 7v-12l1 -19v17v19l1 -2v-12v-11l1 -2v20l1 -17v15v12l1 -25v9v-18l1 28v-16l1 2v8v7l1 -21v8l1 -22v31v-22l1 32v-33v21l1 -10v-3l1 1v15v-19l1 2v6v-3l1 13v-8l1 -2v15v-9l1 -15v11v-2l1 13v-24l1 18v-3v9l1 -17v6v10l1 -22v10l1 3v-16v18l1 3v-38v29l1 -14v4l1 27v-13v-3l1 7v-10l1 -12v21v-5l1 1v-2v6l1 -15v24l1 -5v2v-14l1 -8v-2v-3l1 28v-12l1 -12v13v-9l1 -1v9v6l1 -2v-24l1 17v8v2l1 -21v25v-18l1 -26v32l1 11v6v-27l1 22v-15l1 -23v21v7h1v-13v18l1 -3v-16l1 -5v22v-20l1 12v18v-17l1 2v2l1 -3v-22v24l1 -7v-17v28l1 11v-3l1 2v-27v-9l1 24v-26v28l1 -14v1l1 16v-6v-12l1 24v-13l1 8v-16l1 18v-27v13l1 11v6l1 -22v5v15l1 -18v10v-25l1 15v15l1 -7v-22v4l1 21v10v-29l1 23v-39l1 43v-8v-27l1 20v-11v-3l1 35v-10l1 -17v3v12l1 4v-12l1 -8v1v20l1 -5v-20v1l1 8v10l1 -16v14v14l1 -2v3v-20l1 -11v6l1 2v15v-18l1 19v-4v-15l1 2v19l1 -12v3v-1l1 5v-3v-2l1 -17v-4l1 18v-5v-3l1 16v-18l1 8v15v-16l1 1v8v5l1 -1v-4l1 -53v59v-8l1 -7v-9v22l1 6v-14l1 16v-2v-30l1 12v-20v29l1 -2v-14l1 -7v13v6l1 9v-18v22l1 -24v5l1 -5v7v-26l1 9v-4v32l1 -17v18l1 -12v-1v-2l1 -4v-1l1 7v-7v18l1 -17v-14v31l1 -21v18l1 -15v19v-21l1 16v-19v11l1 2v-6l1 14v2v-8l1 -4v5v-1l1 9v-18l1 6v8v-8l1 -7v8v-6l1 -7v3l1 11v22v-29l1 22v-12h1v-16v9l1 9v-3v-10l1 22v-41l1 36v1v1l1 -43v43v-11l1 14v-27l1 18v2l1 -10v-6v-2l1 8v14l1 -12v15v-4l1 -11v1v3l1 5v6l1 -6v-7v7l1 -8v5h1v-5v13l1 -3v3v-38l1 20v3l1 23v-14v-29l1 22v9v-16l1 -23v34l1 -5v7v-3l1 13v2v-20l1 13v-2l1 -1l1 4v-21v16l1 -9v-23l1 36v-30v25l1 -11v10l1 -19v-27v39l1 -3v6v-26l1 46v-15l1 -5v-1v-21l1 12v18v-24l1 24v13l1 -19v10v-12l1 4v4v-11l1 1v2l1 -3v1v9l1 -14v18v-7l1 -13v19l1 -15v-3v2l1 10v-15l1 7v25v-15l1 -5v11v-4l1 -20v16l1 -7v-23v38l1 -8v7l1 -19v3l1 20v-33v11l1 1v1v2l1 2v3l1 -12v-21v39l1 -13v-1l1 19v-12l1 -3v5v-12l1 -10v18h1v7v-9l1 9v-21v20h1v-20l1 8v-24v28l1 11v-18v19l1 -4l1 1v10v-23l1 5v-8v15l1 -17v20l1 -28v3v35l1 -45v15v10l1 2v5l1 -31v8v30l1 -12v-6v-1l1 18v-14l1 -7v20v-13l1 16v-14l1 -9v-1v-6l1 12v-31l1 25v6l1 -25v41v-22l1 3v13v-5l1 20v-35l1 28v-9v-2l1 -34v17v-4l1 25v-1l1 -29v30v-5l1 4v-33v34l1 -8v5l1 4v9v-15l1 1v-27l1 22v-39v22l1 17v-4v-8l1 -3v22l1 -11v14v-17l1 11v3v-6l1 16v-20l1 19v-3v1l1 -13v-28v12l1 11v19l1 -19v1v4l1 -8v3v-7l1 16v-11l1 19v-8v12l1 -14v8l1 5v2v-7l1 -19v-2v-3l1 2v15l1 -15v10v-4l1 12v7v-10l1 5v4l1 -5v-5v-15l1 9v1v-1h1v-8l1 16v-21v20l1 -4v25v-45l1 36v-14l1 -10v1v11l1 -5v-9l1 19v-25v10l1 20v-23v9l1 -12v-5l1 9v6v15l1 -3v-1v-14l1 -13v30l1 11v-16v-3l1 -10v4v-22l1 25v19l1 -10v-10v21l1 -11v-5v6l1 -9v-22l1 42v-14v-27l1 33v1l1 -2v-26v29l1 -25v6v5l1 -13v5l1 -17v26v-4l1 10v-22v18l1 -6v8l1 5v-6v1l1 -20v17v-8l1 4v17l1 -3v-9v-8l1 -7v11v-16l1 25v-17l1 32v-20v1l1 -2v-9v18l1 -22v15l1 8v-11v-2l1 -10v-5l1 36v-15v3l1 -30v23v5l1 6v-6l1 -9v3v-3l1 -6v6l1 3v-6l1 5v4v2l1 18v-18v5l1 -5v1l1 7v-7v6l1 -8v3v-31l1 32v12l1 -9v-20v-13l1 29v-2l1 3v-7v6l1 -1v4v-5l1 -10v6l1 8v8v-5l1 -23v29v-32l1 24v-9l1 16v-19v6l1 -2v-31v41l1 -13v14l1 -10v-5v13l1 -8v5v-3l1 -30v41l1 -9v-3v11l1 -46v31l1 -17v-5v8l1 -1v27l1 -31v11l1 7v-9v11l1 3v-31v18l1 22v-4l1 -2v13v-32l1 2v-13l1 17v13l1 -17v1v8l1 3v2v9l1 -10v-25l1 -5v43v-1l1 -8v5l1 -29v24v-2l1 -16v19v-3l1 5v-20l1 -26v22v21l1 2v-5v12l1 -24v25l1 -9v-6v-5l1 -14v6v-3l1 25v-20l1 8v5v-4l1 16v-5v-1l1 -13v-8l1 2v17v-6l1 -6v-1l1 20v-14v-4l1 5v-16v-2l1 33v-20h1v12v-27l1 18v6v5l1 -43v37l1 -17v6v14l1 -9v17v-17l1 -4v21l1 -14v12v-20l1 14v-19v21l1 2v-10l1 -14v11v-19l1 15l1 8v-9v16l1 -26v33v-8l1 -2v-41l1 33v-1v-10l1 27v-40v41l1 -11v-3l1 -1v-17v31l1 -16v-11v6l1 13v4l1 -26v-28v59l1 6v-21v-6l1 25v-24l1 -11v23v-25l1 21v-7v-16l1 27v-7l1 12v-11v-17l1 -2v27l1 -11v-1v14l1 -13v8v-12l1 -3v5l1 6v6v13l1 -39v9v-10l1 41v-25l1 -11v-2v6l1 2v17v-14l1 -3v9l1 -30v32v9l1 -11v-7v-12l1 21v-4l1 -7v20v-16l1 -15v11l1 -9v18v-11l1 15v2v-12l1 23v-14l1 3v-14v4l1 5v-17v25l1 -10v5l1 -29v26v3l1 5v-8v-5l1 10v-13l1 7v5v-13l1 7v7v-10l1 -17v12l1 14v-1l1 -28v30l1 -1v2v-13l1 6v3v-33l1 37v-26l1 26v-18v-4l1 19v-1v-14l1 11v9l1 -29v34v-7l1 -24v13v14l1 -20v7l1 -1v6v8l1 -27v14v5l1 -24v28l1 -20v22v-7l1 7v-10l1 10v-21v-28l1 34v1v3l1 11v-22l1 -1v28v-9l1 1v-6v-17l1 17v-8l1 22v-5v-5l1 8v-1v-19l1 11l1 -25v29v-2l1 -23v18v-7l1 8v-5l1 4v12v-8l1 -2v-14l1 11v5v4l1 -5v8l1 -22v10l1 21v-12v-5h1v6v-20l1 19v-12l1 2v3v15l1 -17v2v-5l1 18v-25l1 19v-17v-20l1 31v-2l1 10v-8l1 -1v13v-36l1 11v19v-5l1 -2v7l1 -18v17v3l1 -33v23l1 -7v-19v30l1 1v-14v20l1 -12v1l1 15v1v-12l1 4v-4v-36l1 36v-3l1 4v10v-25l1 9v-18v19l1 7v-35l1 23v3v3l1 -9v-1v8l1 -4v15l1 -7v15v-22l1 1v-6l1 17v-22v12l1 -8v26v-46l1 27v4l1 -12v13v-16l1 -4v28v-30l1 -26v55l1 -7v6v-7l1 13v-13v6l1 -6v3l1 -2v9v-9l1 -8v21v-21l1 10v-4l1 -6v-32v25l1 11v14l1 -9v4v12l1 -1v-9v-20l1 20v-5l1 -20v24v-7l1 -10v7v6l1 -30v41l1 -9v-49v44l1 -9v-5v-8l1 8v27l1 7v-24v-1l1 7v2v-30l1 1v28l1 3v12v-12l1 1v1l1 8v-28v9l1 16v-10v-8l1 -17v21l1 9v-9v13l1 -6v3v-30l1 2v32l1 -3v-17v-11l1 5v16v-27l1 13v5l1 5v-11v8l1 -4v20v-7l1 -19v8l1 17v-11v10l1 -10v-11l1 7v14v-7h1v9v-4l1 -22v-23l1 31v3l1 3v5v-9h1v-4l1 13v-2v-57l1 46v-7v20h1v2l1 -2v-1v-9l1 7v14v-33l1 10v13l1 2v-6l1 16v-21l1 14v-7v7l1 5v-15v3l1 9v-15h1v-4v11l1 -3v7v-25l1 35v-17l1 -11v14v-9l1 6v-1v18l1 -18v1l1 -1v-15v16l1 -3v8v-7l1 2v-6l1 1v-6v15l1 -19v25v-11l1 -11v16l1 12v-10v-15l1 28v-26l1 10v2v-10l1 -3v11v-14l1 7v-11l1 6v-2v6l1 -23v20v1l1 -21v29l1 -9v16v-1l1 -7v-10v8l1 8v-12l1 7v7v-14l1 6v-7v-1l1 -3v15l1 -7v16v-25l1 11v-11l1 15v-3v3l1 -27v35v-1l1 -29v-2l1 14v6v1l1 -14v9v6l1 -25v22l1 -18v19v2l1 7v-29v22l1 -18v3l1 31v-11v2l1 11v-13v-12l1 -9v-11l1 22v18v-1l1 -19v10l1 14v-17v-16l1 10v-2v14l1 -18v-9l1 4v8v-27l1 46v-12v1l1 -12v13l1 -6v-15v5l1 -4v25v-8l1 -11v9l1 -6v10v-3l1 -9v8v-13l1 18v5l1 5v-5v3l1 -6v-6l1 -1v-5v17l1 -14v-30v37l1 -17l1 27v-38v38l1 -21v10v13l1 -4v-16l1 17v1v-2l1 1v-3v-7l1 -34v18l1 20v-1v-7l1 17v-21v16l1 -22v14l1 -7v17v-17l1 3v11l1 -18v-1v14l1 -12v21v-4l1 -2v-11l1 -2v12v-22l1 7v15v-6l1 -23v41l1 -18v5v6l1 -14v13v-7l1 1v-6l1 16v-5v-14l1 6v-11v9l1 1v7l1 -22v3v27l1 -12v-2v12l1 -14v10l1 -19v-4v9l1 10v-3l1 -21v30v-13l1 -8v11v-2l1 9v-24l1 22v-5v-2l1 3v14v-11l1 -16v-3l1 25v-20v10l1 -4v-9v10l1 -22v22l1 -19v25v-28l1 20v3v7l1 -38v49l1 -23v-29v22h1v10l1 7v-3v-16l1 18v-4v5l1 -2v-2l1 -10v19v-2l1 -14v-15v-14l1 45v-8l1 4v-12v23l1 -25v13v4l1 -33v33l1 -19v11v-16l1 20v-8v9l1 -7v-18l1 32v7v-28l1 20v-6l1 -4v-6v-1l1 14v-4v14l1 -7v-3l1 -16v8v-1l1 -1v-2v-2l1 15v-9l1 -4v8v12l1 -30v20l1 -11v15l1 -4v-7v-2l1 -9v2v3l1 6v-2l1 -1v-12l1 8v18l1 -4v-3v-14l1 8v-10v8l1 -3v15l1 -15v2v2l1 24v-15v-15l1 15v8l1 -1v9v-33l1 23v-10v-20l1 21v-4l1 10v3v-9l1 11v-12v-1l1 -9v13l1 -17v4v22l1 -58v57l1 -2v8v-33l1 18v6v3h1v-16l1 11v1v-8l1 13v-15v-2l1 2v-1l1 20v-13v1l1 -10v14v-19l1 13v-5l1 -8v-10v17l1 5v-1v-7l1 10v11l1 -25v22v2l1 -19v-4l1 25"/>
<path class="curve" stroke="#B177DE" d="M252 647v1l1 -3v3l1 -2v3h1v1l1 2v-1v1h1v4l1 -1v-2l1 5v-2v3l1 1l1 1v-2v3l1 3v3v2l1 2v1l1 4v1v3l1 2v1v2h1v5l1 -1v6v3h1v2l1 2v2v5l1 6v8v4l1 -1v9l1 10v2v4l1 -3v10v-6l1 11v15l1 14v5v17l1 14v4v12l1 2v12l1 18v-9v20l1 -11v1v15l1 8v4l1 -10v9v6h1v-12l1 14v2l1 1v2v16l1 -1v7l1 2v-10v19l1 1v11v4l1 -7v15l1 5v-4v4l1 2v11v23l1 -18v6l1 -1v22v-28l1 40v-15v13l1 11v-7l1 15v24v-6l1 -10v-12l1 37v-10v-10l1 11v12v12l1 6v-7h1v19v-3l1 -13v11v6l1 1v6l1 -7v1l1 10v3l1 -1h1v4v1l1 -6v1v-1l1 1v1l1 -6v2v3l1 -3h1v-4v5l1 2v-2v1l1 -2h1v2v-2l1 2v-2v1l1 2v-3l1 2v-4v2h1v1l1 5v-8l1 5v-5v4l1 -1v3l1 -3v-2l1 3v5v-4l1 -4v-5l1 1v4v9l1 -14v6v2l1 -9v2l1 1v14v-4l1 9v-16v1l1 -8v6l1 6v-24v31l1 3v-7v-12l1 9v1l1 8v-30v25l1 5v-11v8l1 -7v-20l1 23v-5v4l1 -2v-14v4l1 12v8l1 -11v-13v11l1 2v22l1 -37v33v-3l1 -12v-5v-1l1 11v-6l1 4v16v-21l1 6v-15v8l1 -15v3l1 -2v-4v7l1 11v-20v31l1 -13v-12l1 16v-14v21l1 -4v-14v-3l1 -6v17l1 -5v-4v2l1 24v-10l1 -28v37v-25l1 14v-20v25l1 -12v29l1 -27v-15v34l1 -36v26v-9l1 30v-45l1 26v-5v10l1 -3v-29v22l1 -19v15l1 -7v11v-13l1 -29v26v2l1 14v-20l1 -5v41v-4l1 -47v22l1 5v-6v-8l1 4v14v-31l1 28v12l1 -4v-6v3l1 -2v-7v35l1 -20v-24l1 6v17v-1l1 -24v19v4l1 -33v30l1 -14v10v-1l1 13v-1v-29l1 33v-19l1 20v-13v-5l1 24v-38l1 18v-19v29l1 -25v-19v29l1 11v-15l1 5v4v-1l1 6v-13v11l1 6v-22l1 13v-38v39l1 6v-2v-12l1 14v8l1 -40v39v-37l1 19v16v-37l1 25v11l1 -14v-17v8l1 -1v-13l1 21v-2v8l1 16v-17v-24l1 45v-41l1 14v16v-13l1 -23v31v-18l1 -5v28l1 -21v2v13l1 -15v14v3l1 8v-21l1 11v1v8l1 3v-8v-20l1 21v-31l1 14v4v18l1 -42v45v-26l1 -16v26l1 6v-9v-12l1 -6v10l1 17v-12l1 20v-14v-33l1 44v-30l1 29v-8v-4l1 19v-19v-18l1 7v1l1 20v-9v-5l1 -6v-9v32l1 -37v27h1v12v-15l1 2v14v-13l1 -5v7l1 -16v24v-25l1 14v-7l1 29v-26v2l1 -13v28v-33l1 32v-31l1 9v17v-37l1 43v-13v-5l1 -4v4l1 -7v4v6l1 12v-8v-15l1 26v-16l1 27v-17v11l1 -35v38v-20l1 -12v2l1 -2v-4v8l1 -5v11h1v21v-24l1 -13v25v5l1 -15v-13l1 -1v33v-24l1 13v-11v30l1 -37v15l1 -7v5v10l1 -18v12v2l1 -16v9l1 7v-19v18l1 -7v-8v-3l1 -3v-5l1 19v9v-27l1 3v19l1 -12v13v13l1 -29v8v2l1 -17v3l1 23v5v9l1 -21v4v-8l1 4v7l1 -3v13v-31l1 20v-13v14l1 -8v-6l1 10v6v-34l1 27v-8v7l1 7v-22l1 10v1v27l1 -27v-6l1 6v5v-14l1 10v-4v-4h1v24l1 -17v11v13l1 -23v20v-13l1 19v-13l1 -6v-4v5l1 4v-25l1 20v-3l1 -20v36v3l1 -10v-6v7l1 -11v1l1 14v-17v16l1 -21v5l1 -19v13v10l1 -5v2v8l1 7v-24l1 -4v19v-2l1 2v-14v-2l1 20v-5l1 2v-7v-6l1 -2v12v7l1 -14v-1l1 9v-5v-2l1 -4v7v-4l1 3v11l1 -16v6v-9l1 21v-5v-9l1 19v-15l1 3v-2l1 18v-20l1 -1v-8v-4l1 10v-5v29l1 -26v-4l1 2v5v5l1 1v-4v-3l1 -1v5l1 10v-26v23l1 12v-32v4l1 7v-7l1 5v11v-8l1 11v-5v2l1 -9v-7l1 14v-9v22l1 -9v-14l1 -3v-1l1 23v-10v15l1 -18v-3l1 5v5v-11l1 -1v3v6l1 -5v-1l1 -1v-3v5l1 12v-10v-5l1 7v-6l1 8v-17v8l1 2v-5l1 6v-8l1 3v4v1l1 9v-10h1v8v-18l1 11v9v-5l1 -3l1 6v-7v12l1 -8v-7v9l1 -11v-1l1 11v14v-26l1 -3v23v-14l1 -1v15l1 -8v-14v8l1 1v-9v14l1 10v-25l1 17v-7v-9l1 7v1l1 6v-9v-13l1 22v4v-11l1 8v-7l1 1v-3v2l1 -1v-8v18l1 -8v-2l1 12v-2v-5l1 2v-13v7l1 -21v25h1v-20v22l1 -21v35v-13l1 -16v-2l1 9v9v-4l1 -7v3l1 -5v13v-12l1 -3v-12v16h1v12l1 4v7v-21l1 -12v16v18l1 -20v3l1 1v-16v4l1 -2v18v-9l1 11v-17l1 17v-18v8h1v12v-16l1 19v-4l1 -2v-23v15l1 6v-9v-14l1 19v7h1v-8v-13l1 14v1l1 5v1v-16l1 5v13l1 -14v2l1 -9v3v10l1 -4v3l1 6v-14l1 -10v18v-13l1 15v-3l1 2v-9l1 -1v25v-23l1 3v-10v20l1 -8v-8l1 3v-5v17l1 -1v-9l1 14v-13v-3l1 4v12v-5l1 -2v-6l1 2v5v9l1 1v-6l1 -3v3l1 -6v3v-6l1 2v-4v11l1 -1v2l1 -9v-4v-3l1 7v2v-6l1 5v7l1 -12v8v7l1 -9v5l1 -6v5v-3l1 2v-3v-5l1 2v2l1 -7v17v-11l1 -7v4v-4l1 15v-15l1 13v-13v6l1 -4v12v-4l1 11v-15l1 -3v3v-6l1 4v3v-3l1 8v-10l1 4v3l1 3v2l1 -4v-7v17l1 -13v-19v18l1 3v-4l1 4v-2l1 7v-15v7l1 -6v6l1 -6v7v-18l1 11v-1v9l1 10v-8l1 -6v3v4l1 2v3v-5l1 -8h1v6v-3l1 2v-3l1 1v-2v5l1 -1v-9l1 23v-16h1v-3v20l1 -3v-9v-3l1 8v-15l1 1v2v-1l1 13v-6v14l1 -22v-1l1 5v10v-7l1 -6v14v-10l1 -3v10l1 -1v-12v3l1 -4v7l1 8v-6v4l1 -3v-4v-7l1 9v-12l1 21v-7v-2l1 15v-4v-8l1 -3v-2l1 2v3v7l1 -10v-10v8l1 7v-5l1 -2v-6v12l1 -7v6l1 -2v2l1 -3v-1v10l1 -7v-11v10l1 12v-22l1 11v-2v-3l1 6v4l1 -2v-6v2l1 2v-16v12l1 -5v-7l1 13v3v-1l1 -2v-11v5l1 8v2l1 -8v-7v15l1 -14v8v2l1 2v3l1 -1v-11v17l1 -7v-2v7l1 -4v6l1 -13v-1v14l1 -18v15l1 6v-1v-14l1 18v-14v-3l1 -4v8l1 -10v11v-9l1 12v-8v4l1 -3v-13l1 14v-1l1 -1v16v-19l1 14v4l1 -14v9v-9l1 -6v7v7l1 -8v-12l1 13v-11v2l1 17v-14l1 15v-12l1 4v9v-7l1 -1v-5l1 4v-4v5l1 9v-11v-9l1 15v1l1 6v-25v19l1 -14v6v2l1 -1v-12l1 1v8v6l1 -12v5v4l1 -3v8l1 -9v6l1 6v-8l1 -2v12v-12l1 -1v-5v1l1 11v-12l1 5v5v3l1 -10v8l1 -5v5l1 2v1v-10l1 2v1l1 1v-5l1 16v-16v13l1 -6v-2l1 -2v8l1 -16v4v3l1 -1v7l1 9v-2v-13l1 18v-24v7l1 8v-2l1 7v-10v-3l1 -5v16v-15l1 5v2l1 -1v-2v-9l1 2v4v10l1 -4v-6l1 3v8v-17l1 -3v11v6l1 -2v6l1 1v-10v4l1 -7v-13v16l1 2v-1l1 -1v-7v8l1 -4v12l1 -1v-4v-7l1 11v-14v14l1 -7v2l1 -11v16l1 -4v-6l1 12v-3l1 3v-18v8l1 -2v18v-15l1 3v-8l1 16v-19v5h1v12v-20l1 10l1 2v2v-3h1v-6l1 3v8v-5l1 -5v10v-4l1 -7v4l1 6v-7v-2l1 1v4v-11l1 20v-10l1 -2v10v-1l1 -1v-5v2l1 -4v-5l1 12v-4v-2l1 15v-11v9l1 -5v1l1 -13v11l1 -9v6l1 7v-15v1l1 8v8v-6l1 2v-16l1 15v-10v-3l1 6v-6l1 3v15l1 -16v20v-10l1 -9v17v-18l1 -7v15l1 10v-22v16l1 2v-1v-3l1 1v-16l1 17v5l1 -7v-13l1 18v-7v-6l1 7v-1v1l1 -4v6l1 -13v20v-17l1 -1v7v2l1 -10v14l1 -5v4v-7l1 7v-1v-8l1 4v-2l1 -8v22v-9l1 -3v-9v15l1 -6v-4l1 10v-4v-2l1 3v-7l1 -2v8v-6l1 1v3v4l1 -14v16l1 -8v-4v19l1 -9v7v-10l1 -5v8l1 -5v-4v9l1 -3v5v-10l1 5v-10l1 1v16v-10h1v-1l1 4v-7l1 1v2v6l1 -11v16l1 -15v3v9l1 -8v-12v14l1 4v-5l1 -2v-7v12l1 -7v4v-6l1 5v8l1 -10v-2v8l1 11v-7v-6l1 -4v7l1 -9v10v5l1 -11v7v-12l1 1v9l1 1v-5v-5l1 6v1v-7l1 2v8h1v10v-12l1 1v-5l1 7v-2l1 1v-2v2l1 -10v8l1 -4v1v8l1 5v-4v-5l1 -2v8l1 -12v6v-7l1 10v8v-16h1v-11l1 13v-1v-8l1 23v-4v3l1 -14v4l1 -5v13v-5l1 -5v1l1 1v-8v11l1 -2v-6l1 10l1 -1v4v-8l1 3v8v-9l1 -4v-9l1 10v-8v7l1 -7v15v1l1 -7v1l1 -2v-3v10l1 -9v5v-15l1 13v1l1 -13v20v-19l1 7v5h1v-3v-2l1 7v-7v-2l1 4v-9l1 15v-6v-6l1 4v-7v3l1 13v-15l1 11v-10v7l1 -7v20v-17l1 5v-10l1 -1v2v9l1 -2v6v-5l1 -1v-3l1 -5v14v-6l1 -3v5l1 9v-9v2l1 4v-8v3l1 -1v-2l1 1v-3l1 2v-1v-2l1 6v-8l1 -2v9v-9l1 4v1v-8l1 18v-12l1 9v-5v14l1 -18v-2v13l1 -15v12l1 -2v6v-9l1 5v-1l1 -2v7v-9l1 5v-10v8l1 -3l1 -4v-1v8l1 6v-6v2l1 -6v6l1 -4v1l1 7v-12v9l1 7v-5l1 -3v1v-5l1 5v-4v-4l1 10v-1l1 -13v6v-2l1 6v-1l1 4v-11l1 13v-3v3l1 -17v16l1 -12v14v-19l1 -3v15v-9l1 16v-5l1 -10v7v3l1 -3v4l1 -9v16l1 -7v-4v-5l1 4v4v10l1 -30v22l1 -9v12v-13l1 14v-5v-4l1 7v-11l1 4v-7v2l1 7v5l1 -5v-8v15l1 -15v15v-12h1v8l1 3v-8v-3l1 11v-11v2l1 8v4l1 -11v2v7l1 -4v-17v8l1 1v8l1 -5v-6v11l1 -1v-2v1l1 -6v8l1 -6v-1l1 1v9h1v3v-12l1 -2v-6l1 10v-8l1 6v-4v9l1 -4v5v1l1 6v-18l1 4v-15v16l1 -2v9v-13l1 10v-16l1 -2v26v-7l1 3v-3v3l1 -10v-5l1 7v-8v6l1 -4v-2l1 13v-14v15h1v-10v10l1 1v-11l1 6v2v1l1 1v-7v3l1 2v-16l1 9v11v-9l1 6v-1v-14l1 3v6l1 -5v15v-13h1v9v6l1 -14v2l1 2v-1l1 -5v-3l1 11v-10v10l1 2v-3v-5l1 1v3l1 6v-12v8l1 -2v5v-15l1 12v6l1 -13v5v-5h1v15v-9l1 -15v11h1v-3v-1l1 7v-5l1 3v2l1 -5v3v7l1 2v-7h1v-8v8h1v2v-3l1 -1v-5l1 10v-6v-2l1 15v-12v7l1 -2v-2l1 1v3v-6l1 -2v5v4l1 -3v-13l1 7v6v3l1 -7v-12l1 22v-12l1 -3v14l1 -11v2v-1l1 -1v7l1 -7v8v4l1 -6v-4l1 -9v12v-11l1 14v-1v5l1 -8v-1l1 -5v7v-3l1 8v-5v-12l1 16v-6l1 -5v2v5l1 1v5v-15l1 17v-8l1 5v-3v4l1 -7v-5v8l1 -3v-1l1 3v-12v15l1 -2v-11l1 6v2v-7l1 19v-15v-5l1 15v-24l1 14v-1l1 2v-12v20l1 -2v-8l1 -1v10v-12l1 13v-3v-1l1 -4v2l1 -3v-2l1 10v-3v-11l1 4l1 11v6v-15l1 -11v25l1 -14v1v13l1 -19v6v5l1 -7v4l1 -7v-4v12l1 -6v-6v17l1 -7v6l1 -10v10v-8l1 5v-5v5l1 10v-3l1 -17v9l1 -3v8v-1l1 4v-8l1 -12v17v-12l1 2l1 13v-3v-13l1 17v-10v1l1 -1v-6l1 8v-9v1l1 15v-10v3l1 -3v5l1 -4v-9v8l1 7v-8v-3l1 13v-6h1v-7v6l1 -1v-4v-1l1 6v-14l1 9v-2v6l1 1v5l1 6v-20v7l1 6v-4v-7l1 4v-6l1 16v-9v1l1 -9v5v-1l1 -4v4l1 13v-17v4l1 5v-4v-7l1 5v5l1 -4v8v-7l1 3v-2v12l1 -2v-24l1 17v-4l1 4v-3v12l1 -10l1 10v-1v-14l1 10v-1l1 -6v4v11l1 -11l1 -9v5l1 6v-19v15l1 9v-6v4l1 -2v-5l1 6v-12v5l1 4v-1v-1l1 -1v5l1 -9v14v-11l1 -1v-3l1 10v-9l1 15v-5v2l1 -12v17l1 -18v5v4l1 4v-6v-15l1 26v-9l1 -6v1l1 4v-2v6l1 -12v9h1v-8v6l1 -7v9v1l1 -2h1v-4l1 2v-4v1l1 -2v6h1v-1v-11l1 2v7l1 6v-9v-4l1 -2v6v11l1 -1v-2l1 -10v9v-6l1 12v-13v1l1 7v-2l1 1v-4v4l1 2v-3v2l1 -6v5l1 2v-2l1 -2v5l1 -3v-2l1 -5v-3v7l1 -7v-2l1 6v-8v20l1 -10v3v1l1 2l1 -6v6v-4l1 4v-18v12l1 7v4l1 3v-7v-10l1 8v-9l1 7v-2l1 2v-5v3l1 5v-1v-10l1 3l1 -6v13v-9l1 15v-11l1 4v-2v2l1 -13v10v-6l1 9v-4l1 3v2v-3l1 -4v-6v8l1 8v-14l1 9v-6v10l1 -7v-1v2l1 -6v11l1 -12v14v-16l1 2v3v12l1 -12v7h1v-3v-10l1 12v7l1 -3v-9v7l1 -2v-12v11l1 1v6h1v-2v-7l1 -8v13v-4l1 -3v11l1 -6v4v-6l1 5v7l1 -11v-1l1 -3v4v-10l1 18v-5v5l1 -12v-5l1 7v-5l1 13v-3v-2l1 2v5l1 -1v-20v3l1 10v-1l1 13v-4l1 -6v-3v-6l1 12v-4l1 7v-6v7l1 -15v4v3l1 2v-4l1 1v5v-1l1 -8v7v6l1 -12v-7l1 8v7v-2l1 -7v2h1v-2l1 1v8v7l1 -13v-2l1 -5v11v-1l1 5v-2v-11l1 -9v13l1 -2v-3v10l1 -6v-6v16l1 -14v-3l1 1v2v10l1 -9v18v-6l1 -9v1h1v1v-2l1 9v-15v8l1 3v-4l1 3v-4v7h1v6l1 -4v-3l1 -14v9v3l1 -6v-3l1 4v10v-3l1 -8v13v-4l1 4v-5l1 3v-3v-5l1 11v-24v12l1 5v-9l1 4v1v1h1v2v-1l1 -4v2l1 -2v3v-4h1v6l1 3v-12v9l1 -4v3v5h1v-6l1 4v-2l1 -11v4l1 4v11l1 -14v-9v10l1 -4v15v-10h1v-3l1 6v-4v12l1 -4v-3v-4l1 -1v11l1 -10v-8v9l1 -7v1l1 1v4v8l1 -3v-8v-3l1 8v-7l1 19v-10v-5l1 1v4v3l1 -2v-3l1 -6v8v3l1 -6v-10v14l1 4v-8l1 -2v3v-4l1 2v1v-7l1 -1v2l1 2v5v-2l1 1v3v-5l1 6v-7l1 3v2l1 5v-5l1 6v-10v3l1 -3v-3v-4l1 17v-8l1 1v-3v-5l1 9v-10v3l1 17v-2l1 -7v-3v-3l1 -3v-1v2l1 13v-11l1 3v1v-3l1 7v-8v4l1 6v-6l1 3v-2v-10l1 6v-4l1 4v13v-20l1 10v2v11l1 -15v13l1 -18v11v-5l1 3v1v-2l1 -11v15l1 -3v-10v14l1 -3v2l1 -9l1 5v8h1v-4v-6l1 -5v1l1 17v-11v-4l1 9v-9l1 13v-6v1l1 -7v-1v11l1 -9v-3l1 4v3v6l1 -7v1v-11l1 11v-1l1 11v-17v9l1 -14v11v-7l1 -1l1 8v-4v1l1 5v5v-1l1 -3v-7l1 7v-6l1 4v-5l1 3v2v-2l1 -1v9v-15l1 18v-14l1 -2v-4v5l1 -4v3v10l1 -20v10l1 15v-8v-9l1 10v-4v9l1 -10v-8l1 -2v-3v14l1 -3v10v-8l1 -5v8l1 -2v7v-10h1v11l1 -14v6v4l1 -12v7v-11l1 16v-3h1v12v-19l1 7v2v-5l1 1v2l1 5v-8v2l1 -2v3v11l1 -10v4l1 7v-8v-9l1 13v-2v-8l1 14v-15h1v13v-13l1 5v6l1 -22v19v2l1 -9v-5v10l1 -5v-6l1 5v-3v14l1 -7v-6v11l1 -4l1 -15v13l1 -5v11l1 -4v-12l1 6v1l1 3v2v-11l1 6v2l1 2v-1v-7l1 5v5v-12l1 18v-16l1 13v-14v1l1 10v-6l1 -4v14v2l1 -17v12v-3l1 -8v13l1 -6v-6v11l1 -7v-2l1 6v-3l1 2v-6v9l1 -12v9v-10h1v11l1 -7v2v1l1 -3v3v8l1 -3v-4l1 -6v11v-9l1 -3v15l1 -1v-12v4l1 13v-21v7l1 12v-5l1 -5v2v-5l1 4v2h1v-4l1 5v-8v4l1 12v-14v-1l1 -10v11l1 5v5v-5l1 -6v-2v11l1 2v-10l1 11v-1v-10l1 1v1h1v13v-11l1 1v-4v8l1 -6v1l1 11v-16l1 1v-1v1l1 4v-5l1 6v-2v3l1 7v-2v-8l1 -6v8l1 -3v4v6l1 -8v-2v2l1 1v-4l1 1v-2v1l1 1v1l1 2v4v-11l1 7v-7v3l1 1v5l1 5v-19v16l1 -5v1l1 1v2l1 -8v1v2l1 -1v4v-5l1 5v-10l1 -1v5v8h1v-7v-6l1 10v-3l1 -6v12v-11l1 -3v9l1 4v2v-10l1 5v-9v1l1 2v3h1v-1v-8l1 16v-12v8l1 -5v11l1 -15v12v-3l1 6v-7v4l1 -5v-8l1 7v11v3l1 -12v7v-11l1 5v-4l1 -6v3v6l1 3v-11v6l1 -2v3l1 -6v6v2l1 -8v6l1 -5v-1v9l1 -9v2v-3l1 7v-2h1v-4v14l1 -5v-3v-2l1 -3v1l1 12v-7v-9l1 19v-15v8l1 -2v-4l1 -6v6v-7l1 2v5v-6l1 -1v7l1 14v-18v19l1 -3v-5h1v-13v1l1 2v2v13l1 -2v-10l1 -2v5v4l1 -6v1l1 4v-3l1 -5v-1v18l1 -11v-4v-3l1 12v2l1 -1v-3v1l1 2v-7v-5l1 8v2l1 -15v15v-1l1 -4v-1l1 -2v11v-7l1 3v4v-19l1 11v-3l1 2v4v-2l1 -13v11l1 -2v4h1v6v-15l1 9v-4v-2l1 7v3l1 -6v1v-5l1 12v3v-9l1 1v-2l1 7v-4v-14l1 11v4l1 -6v-1v11l1 -8v-4v12l1 3v-11l1 -5v-7v5l1 -6v16v-6l1 10v-7l1 -9v9v1l1 -6v7v-4l1 -2v11l1 -15v1v4l1 1v1v1l1 -1v-9l1 4v1v12l1 -13v3l1 13v-10l1 1v3v-13l1 9v-5l1 10v-9v-2l1 11v-13v8l1 -3v-1l1 10v-14v20l1 -17v7l1 5v-7l1 -13v2v9l1 12v-6v2l1 4v-10l1 4v-3v-7h1v15l1 -5v-7v-7l1 4v-1l1 -4v9l1 -2v5v5l1 -3v-6v9l1 -6v5l1 -4v-9v10l1 6v-15v6l1 -1v8l1 -14v14l1 -12v12v-1l1 -9v11l1 -10v-6v6l1 -3v7v-10l1 7v9l1 -15v4v-4l1 19v-8l1 -10v13l1 -1v-9v4l1 -1v13l1 -11v-4v4l1 -3v4l1 2v-2l1 -10v3v2l1 9v-1v-5l1 4v4l1 -2v-3v-4h1v7v-9l1 13v-12l1 1v2v3l1 -2v-2l1 -1v3v1l1 6v-10v-6h1v3h1v1v-3l1 3v7v-7l1 -4v15l1 -7v-4h1v3v2l1 -8v4l1 -1v8v-10h1v11v-2l1 -2l1 -6v-8v6l1 11v-3l1 2v-1l1 -1v1v-3h1v-11l1 10v-6v-7l1 20v-10v4l1 -5v14l1 -5v-5v10l1 -13v-9v13l1 -7v11l1 -8v-3v3l1 1v4v-4l1 15v-9l1 -5v-5l1 9v-13l1 4v4v7l1 1v-9v11l1 -7l1 -2v3v-8l1 12v-16v3h1v13l1 -7v-4v3l1 2v2v4l1 -3v-9l1 2v7v6l1 -4v-1v1l1 -19v8l1 5v2v-1l1 -1v-1l1 9v-16v19l1 -7v-7v10l1 5v-4l1 -4v-2v-12l1 7v-1v3l1 6v-7l1 -2v7v-5l1 -2v18v-8l1 -3v11l1 -13v-6v9l1 6v-6v-11l1 11l1 -3v-4v9l1 -3v-6v2l1 -5v12l1 -12v-4v3l1 9v-5l1 -7v17v-5l1 3v-7v2h1v-1l1 -1v2v5l1 -9v-4v10l1 1v-10l1 11v-8v8l1 -1v-1v1l1 2v8l1 -20v-2v8l1 10v-15v5l1 -7v10l1 -2v7l1 -4v3l1 -3v3v-2l1 -8v4v5l1 -7v-3l1 10v2v4l1 -12v1v13l1 -17v-4l1 5v-6v12l1 7v-11v5l1 -3v2l1 11v-7v-2l1 -3v-4v-3l1 5l1 3v4v-5l1 -1v4l1 1v-7v3l1 -8v10v3l1 -2v-12l1 8v6v-8l1 8v-2v-2l1 -4v9l1 -12v8v2l1 -5v-4v-6l1 18v-7l1 3v-8v-1l1 6v-7v6l1 -8v12l1 -12v21v-4l1 -11v-3l1 13v-4v-5l1 6v-10v11l1 -12v-1l1 6v7v-4l1 4v7l1 -21v12h1v3v-5l1 -1v12v-18l1 6l1 8v-7v2l1 -11v12v-5l1 4l1 -1v6v-9l1 -3v1h1v5v-5l1 4v-2v-4l1 2v1l1 9v5v-11l1 -2v1v-1l1 6v7l1 -15l1 -5v-1v5l1 -3v4l1 7v-2v4l1 -3v-4v2l1 -1v8l1 -2v-7v-4l1 -6v20l1 -3v-9v4l1 -3v-4v11h1v-4l1 -3v-1v-1l1 6v-5v3l1 -9v2l1 3v5v11l1 -20v14v-1l1 -8v-4l1 8v1v1l1 -5v1v-2l1 12v-15l1 11v-2v-5l1 -2v5v7l1 -12v4l1 -1v2v-3l1 -4v5l1 -1v6v-5l1 5v6v-9l1 2v2l1 2v-8v4l1 -8v14v-14l1 8v-4l1 3v-2v-5l1 2v7v-6l1 5v7l1 -8v-5v-6h1v13v2l1 3v-6l1 5v-18v10l1 -6v2l1 2v-3v-5l1 2v-2v12l1 -2v-1l1 -5v10v-7l1 2v2v-2l1 3v-2l1 1v4v-13l1 14v-9v2l1 -5v2l1 3v-7v8l1 2v-4v1l1 3v-9l1 -7v10v9l1 1v-4l1 -2v4v-7l1 6v-5v2l1 -6v10l1 -14v12v-4l1 3v3l1 -3v-5l1 7v-5v-1l1 3v10v-4l1 -11v2l1 1v-2v7l1 -10v2v7l1 -3v2l1 -1v-6v7l1 5v-15l1 6v-9v12l1 4v-3v-9l1 -1v2l1 2v1v-3l1 9v-4v2l1 -6v-3l1 10v11v-10l1 4v-3v-9l1 9v7l1 -15v1v-7l1 9v5v-10l1 10v-2l1 -2v7v-21l1 23l1 -13v-1v2l1 3v-9v14l1 -11l1 4v5v-4l1 7v-8v2l1 3v-2l1 3v-12v3l1 16v-8v-7l1 5v-4l1 5v2v-8l1 12v-1v-21l1 16v-8l1 6v-4v5l1 2v-6v5l1 -3v5l1 -8v13v-4l1 1v-4l1 -6v1v5l1 -4v5v1l1 1v3l1 -3v-9v13l1 -11v1v-2l1 6v4l1 -6v5v-9l1 3v1l1 4v-13l1 16v-3v1l1 -2v-7v-1l1 3v5l1 9v-15v3l1 -2v-1l1 -3v6v-5l1 11v-10v8l1 -5v1l1 -1v-8v6l1 4v2v3l1 -8v7l1 -9v3v3l1 -5v6v-1l1 -3v2l1 -8v4v6l1 -11v6v-2l1 3v-6l1 3v-2v5l1 2v-5l1 10v3v-8l1 -2v-3l1 4v-8l1 4v-6l1 9v-5v13h1v-9l1 3v-2l1 3v2v-5l1 6v-3l1 -2v4v-1l1 -7v-1v3l1 2v-9l1 13v-7v-5l1 8v-11l1 -2v16v-4h1v9v-22l1 8v12l1 6v-5v-10l1 -3v4v2l1 -2v3l1 7v1v-10l1 5v-1v-6l1 5v-3l1 13v-9v-8l1 3v1v1l1 -2v-3l1 11v-7l1 -1v-6l1 12v1v-14l1 14v-5v4l1 -1v-8l1 6v-5v7l1 -13v10v-3l1 6v-1l1 -12v8v3l1 -7v7v-5l1 7v-4l1 -1v5l1 -12v2v14l1 -18v11l1 1v5v-9l1 -2v5l1 -3"/>
</g>
<g class="axes" fill="#000" shape-rendering="crispEdges">
<rect x="245" y="44" width="5" height="1162"/>
<rect x="245" y="1201" width="1522" height="5"/>
<rect x="226" y="1164.0" width="20" height="5"/>
<rect x="226" y="977.3" width="20" height="5"/>
<rect x="226" y="790.7" width="20" height="5"/>
<rect x="226" y="604.0" width="20" height="5"/>
<rect x="226" y="417.3" width="20" height="5"/>
<rect x="226" y="230.7" width="20" height="5"/>
<rect x="226" y="44.0" width="20" height="5"/>
<rect x="237" y="1070.7" width="9" height="5"/>
<rect x="237" y="884.0" width="9" height="5"/>
<rect x="237" y="697.3" width="9" height="5"/>
<rect x="237" y="510.7" width="9" height="5"/>
<rect x="237" y="324.0" width="9" height="5"/>
<rect x="237" y="137.3" width="9" height="5"/>
<rect x="249.0" y="1205" width="5" height="20"/>
<rect x="438.1" y="1205" width="5" height="20"/>
<rect x="627.2" y="1205" width="5" height="20"/>
<rect x="816.4" y="1205" width="5" height="20"/>
<rect x="1005.5" y="1205" width="5" height="20"/>
<rect x="1194.6" y="1205" width="5" height="20"/>
<rect x="1383.8" y="1205" width="5" height="20"/>
<rect x="1572.9" y="1205" width="5" height="20"/>
<rect x="1762.0" y="1205" width="5" height="20"/>
<rect x="343.6" y="1205" width="5" height="9"/>
<rect x="532.7" y="1205" width="5" height="9"/>
<rect x="721.8" y="1205" width="5" height="9"/>
<rect x="910.9" y="1205" width="5" height="9"/>
<rect x="1100.1" y="1205" width="5" height="9"/>
<rect x="1289.2" y="1205" width="5" height="9"/>
<rect x="1478.3" y="1205" width="5" height="9"/>
<rect x="1667.4" y="1205" width="5" height="9"/>
</g>
<g class="ticklabels">
<text transform="translate(111.65,1193.20) scale(0.95,1)" x="17.63 44.78 88.16" y="0" font-family='"Liberation Serif",serif' font-size="67" text-anchor="middle" fill="#000" stroke="#fff" stroke-width="0.9" paint-order="fill stroke">0.0</text>
<text transform="translate(111.65,1006.53) scale(0.95,1)" x="17.63 44.78 88.16" y="0" font-family='"Liberation Serif",serif' font-size="67" text-anchor="middle" fill="#000" stroke="#fff" stroke-width="0.9" paint-order="fill stroke">0.5</text>
<text transform="translate(111.65,819.87) scale(0.95,1)" x="17.63 44.78 88.16" y="0" font-family='"Liberation Serif",serif' font-size="67" text-anchor="middle" fill="#000" stroke="#fff" stroke-width="0.9" paint-order="fill stroke">1.0</text>
<text transform="translate(111.65,633.20) scale(0.95,1)" x="17.63 44.78 88.16" y="0" font-family='"Liberation Serif",serif' font-size="67" text-anchor="middle" fill="#000" stroke="#fff" stroke-width="0.9" paint-order="fill stroke">1.5</text>
<text transform="translate(111.65,446.53) scale(0.95,1)" x="17.63 44.78 88.16" y="0" font-family='"Liberation Serif",serif' font-size="67" text-anchor="middle" fill="#000" stroke="#fff" stroke-width="0.9" paint-order="fill stroke">2.0</text>
<text transform="translate(111.65,259.87) scale(0.95,1)" x="17.63 44.78 88.16" y="0" font-family='"Liberation Serif",serif' font-size="67" text-anchor="middle" fill="#000" stroke="#fff" stroke-width="0.9" paint-order="fill stroke">2.5</text>
<text transform="translate(111.65,73.20) scale(0.95,1)" x="17.63 44.78 88.16" y="0" font-family='"Liberation Serif",serif' font-size="67" text-anchor="middle" fill="#000" stroke="#fff" stroke-width="0.9" paint-order="fill stroke">3.0</text>
<text transform="translate(235.05,1295.50) scale(0.95,1)" x="17.63" y="0" font-family='"Liberation Serif",serif' font-size="67" text-anchor="middle" fill="#000" stroke="#fff" stroke-width="0.9" paint-order="fill stroke">0</text>
<text transform="translate(390.68,1295.50) scale(0.95,1)" x="17.63 52.89 88.16" y="0" font-family='"Liberation Serif",serif' font-size="67" text-anchor="middle" fill="#000" stroke="#fff" stroke-width="0.9" paint-order="fill stroke">500</text>
<text transform="translate(563.05,1295.50) scale(0.95,1)" x="17.63 52.89 88.16 123.42" y="0" font-family='"Liberation Serif",serif' font-size="67" text-anchor="middle" fill="#000" stroke="#fff" stroke-width="0.9" paint-order="fill stroke">1000</text>
<text transform="translate(752.17,1295.50) scale(0.95,1)" x="17.63 52.89 88.16 123.42" y="0" font-family='"Liberation Serif",serif' font-size="67" text-anchor="middle" fill="#000" stroke="#fff" stroke-width="0.9" paint-order="fill stroke">1500</text>
<text transform="translate(941.30,1295.50) scale(0.95,1)" x="17.63 52.89 88.16 123.42" y="0" font-family='"Liberation Serif",serif' font-size="67" text-anchor="middle" fill="#000" stroke="#fff" stroke-width="0.9" paint-order="fill stroke">2000</text>
<text transform="translate(1130.42,1295.50) scale(0.95,1)" x="17.63 52.89 88.16 123.42" y="0" font-family='"Liberation Serif",serif' font-size="67" text-anchor="middle" fill="#000" stroke="#fff" stroke-width="0.9" paint-order="fill stroke">2500</text>
<text transform="translate(1319.55,1295.50) scale(0.95,1)" x="17.63 52.89 88.16 123.42" y="0" font-family='"Liberation Serif",serif' font-size="67" text-anchor="middle" fill="#000" stroke="#fff" stroke-width="0.9" paint-order="fill stroke">3000</text>
<text transform="translate(1508.67,1295.50) scale(0.95,1)" x="17.63 52.89 88.16 123.42" y="0" font-family='"Liberation Serif",serif' font-size="67" text-anchor="middle" fill="#000" stroke="#fff" stroke-width="0.9" paint-order="fill stroke">3500</text>
<text transform="translate(1697.80,1295.50) scale(0.95,1)" x="17.63 52.89 88.16 123.42" y="0" font-family='"Liberation Serif",serif' font-size="67" text-anchor="middle" fill="#000" stroke="#fff" stroke-width="0.9" paint-order="fill stroke">4000</text>
</g>
<g class="titles">
<text transform="translate(857.6,1386.3) scale(0.957,1)" x="0" y="0" font-family='"Liberation Mono",monospace' font-size="58" fill="#000" stroke="#fff" stroke-width="1.3" paint-order="fill stroke">iteration</text>
<text transform="translate(90.30,692.00) rotate(-90) scale(0.94,1)" x="17.82 53.46 89.10 124.73" y="0" font-family='"Liberation Serif",serif' font-size="67" text-anchor="middle" fill="#000" stroke="#fff" stroke-width="0.9" paint-order="fill stroke">Loss</text>
</g>
<g class="legend">
<rect x="933.5" y="100.5" width="831" height="318" fill="#fff" stroke="#000" stroke-width="3" shape-rendering="crispEdges"/>
<rect x="939" y="134.0" width="115" height="3" fill="#515151" shape-rendering="crispEdges"/>
<rect x="939" y="196.0" width="115" height="3" fill="#F14040" shape-rendering="crispEdges"/>
<rect x="939" y="258.0" width="115" height="3" fill="#1A6FDF" shape-rendering="crispEdges"/>
<rect x="939" y="320.0" width="115" height="3" fill="#37AD6B" shape-rendering="crispEdges"/>
<rect x="939" y="382.0" width="115" height="3" fill="#B177DE" shape-rendering="crispEdges"/>
<g font-family='"Liberation Mono",monospace' font-size="55" fill="#000" transform="translate(1079.5,0) scale(0.8585,1)" stroke="#fff" stroke-width="1.2" paint-order="fill stroke">
<text x="0" y="155">VGG16</text>
<text x="0" y="217">ResNet50</text>
<text x="0" y="279">ResNet101</text>
<text x="0" y="341">ResNet152</text>
<text x="0" y="403">Network for this article</text>
</g>
</g>
</svg>
</body>
</html>
